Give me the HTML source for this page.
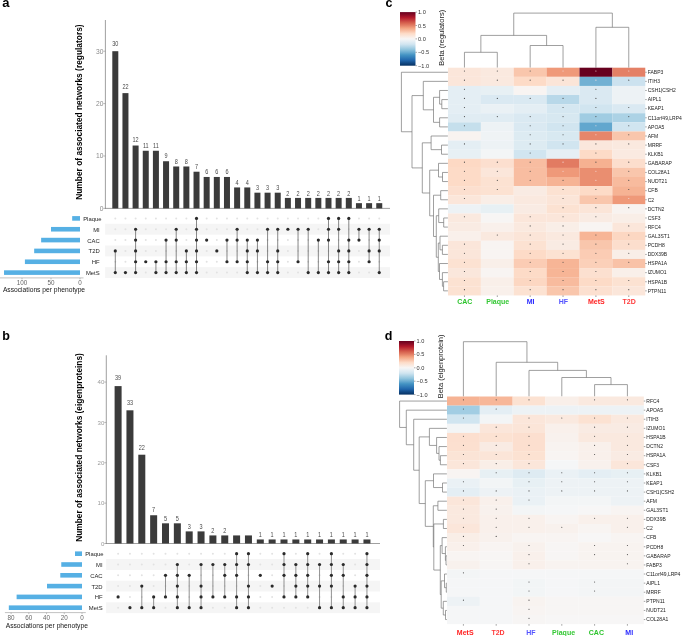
<!DOCTYPE html>
<html><head><meta charset="utf-8"><style>
html,body{margin:0;padding:0;background:#fff;}
body{width:685px;height:636px;overflow:hidden;}
svg{display:block;font-family:"Liberation Sans", sans-serif;will-change:transform;}
</style></head><body>
<svg width="685" height="636" viewBox="0 0 685 636">
<rect width="685" height="636" fill="#fff"/>
<text x="2.30" y="7.00" font-size="13" fill="#000" text-anchor="start" font-weight="bold">a</text>
<text x="82.20" y="112.10" font-size="8.4" fill="#000" text-anchor="middle" font-weight="bold" transform="rotate(-90 82.2 112.1)">Number of associated networks (regulators)</text>
<line x1="105.40" y1="20.00" x2="105.40" y2="208.80" stroke="#888" stroke-width="0.8"/>
<line x1="105.00" y1="208.40" x2="390.00" y2="208.40" stroke="#888" stroke-width="0.8"/>
<line x1="103.40" y1="208.40" x2="105.40" y2="208.40" stroke="#888" stroke-width="0.6"/>
<text x="103.40" y="210.80" font-size="6.7" fill="#8a8a8a" text-anchor="end">0</text>
<line x1="103.40" y1="156.00" x2="105.40" y2="156.00" stroke="#888" stroke-width="0.6"/>
<text x="103.40" y="158.40" font-size="6.7" fill="#8a8a8a" text-anchor="end">10</text>
<line x1="103.40" y1="103.60" x2="105.40" y2="103.60" stroke="#888" stroke-width="0.6"/>
<text x="103.40" y="106.00" font-size="6.7" fill="#8a8a8a" text-anchor="end">20</text>
<line x1="103.40" y1="51.20" x2="105.40" y2="51.20" stroke="#888" stroke-width="0.6"/>
<text x="103.40" y="53.60" font-size="6.7" fill="#8a8a8a" text-anchor="end">30</text>
<rect x="112.30" y="51.20" width="6.00" height="157.20" fill="#3b3b3b"/>
<text transform="translate(115.30 46.30) scale(0.8 1)" font-size="6.9" fill="#4a4a4a" text-anchor="middle">30</text>
<rect x="122.45" y="93.12" width="6.00" height="115.28" fill="#3b3b3b"/>
<text transform="translate(125.45 88.94) scale(0.8 1)" font-size="6.9" fill="#4a4a4a" text-anchor="middle">22</text>
<rect x="132.60" y="145.52" width="6.00" height="62.88" fill="#3b3b3b"/>
<text transform="translate(135.60 142.24) scale(0.8 1)" font-size="6.9" fill="#4a4a4a" text-anchor="middle">12</text>
<rect x="142.76" y="150.76" width="6.00" height="57.64" fill="#3b3b3b"/>
<text transform="translate(145.76 147.57) scale(0.8 1)" font-size="6.9" fill="#4a4a4a" text-anchor="middle">11</text>
<rect x="152.91" y="150.76" width="6.00" height="57.64" fill="#3b3b3b"/>
<text transform="translate(155.91 147.57) scale(0.8 1)" font-size="6.9" fill="#4a4a4a" text-anchor="middle">11</text>
<rect x="163.06" y="161.24" width="6.00" height="47.16" fill="#3b3b3b"/>
<text transform="translate(166.06 158.23) scale(0.8 1)" font-size="6.9" fill="#4a4a4a" text-anchor="middle">9</text>
<rect x="173.21" y="166.48" width="6.00" height="41.92" fill="#3b3b3b"/>
<text transform="translate(176.21 163.56) scale(0.8 1)" font-size="6.9" fill="#4a4a4a" text-anchor="middle">8</text>
<rect x="183.36" y="166.48" width="6.00" height="41.92" fill="#3b3b3b"/>
<text transform="translate(186.36 163.56) scale(0.8 1)" font-size="6.9" fill="#4a4a4a" text-anchor="middle">8</text>
<rect x="193.52" y="171.72" width="6.00" height="36.68" fill="#3b3b3b"/>
<text transform="translate(196.52 168.89) scale(0.8 1)" font-size="6.9" fill="#4a4a4a" text-anchor="middle">7</text>
<rect x="203.67" y="176.96" width="6.00" height="31.44" fill="#3b3b3b"/>
<text transform="translate(206.67 174.22) scale(0.8 1)" font-size="6.9" fill="#4a4a4a" text-anchor="middle">6</text>
<rect x="213.82" y="176.96" width="6.00" height="31.44" fill="#3b3b3b"/>
<text transform="translate(216.82 174.22) scale(0.8 1)" font-size="6.9" fill="#4a4a4a" text-anchor="middle">6</text>
<rect x="223.97" y="176.96" width="6.00" height="31.44" fill="#3b3b3b"/>
<text transform="translate(226.97 174.22) scale(0.8 1)" font-size="6.9" fill="#4a4a4a" text-anchor="middle">6</text>
<rect x="234.12" y="187.44" width="6.00" height="20.96" fill="#3b3b3b"/>
<text transform="translate(237.12 184.88) scale(0.8 1)" font-size="6.9" fill="#4a4a4a" text-anchor="middle">4</text>
<rect x="244.28" y="187.44" width="6.00" height="20.96" fill="#3b3b3b"/>
<text transform="translate(247.28 184.88) scale(0.8 1)" font-size="6.9" fill="#4a4a4a" text-anchor="middle">4</text>
<rect x="254.43" y="192.68" width="6.00" height="15.72" fill="#3b3b3b"/>
<text transform="translate(257.43 190.21) scale(0.8 1)" font-size="6.9" fill="#4a4a4a" text-anchor="middle">3</text>
<rect x="264.58" y="192.68" width="6.00" height="15.72" fill="#3b3b3b"/>
<text transform="translate(267.58 190.21) scale(0.8 1)" font-size="6.9" fill="#4a4a4a" text-anchor="middle">3</text>
<rect x="274.73" y="192.68" width="6.00" height="15.72" fill="#3b3b3b"/>
<text transform="translate(277.73 190.21) scale(0.8 1)" font-size="6.9" fill="#4a4a4a" text-anchor="middle">3</text>
<rect x="284.88" y="197.92" width="6.00" height="10.48" fill="#3b3b3b"/>
<text transform="translate(287.88 195.54) scale(0.8 1)" font-size="6.9" fill="#4a4a4a" text-anchor="middle">2</text>
<rect x="295.04" y="197.92" width="6.00" height="10.48" fill="#3b3b3b"/>
<text transform="translate(298.04 195.54) scale(0.8 1)" font-size="6.9" fill="#4a4a4a" text-anchor="middle">2</text>
<rect x="305.19" y="197.92" width="6.00" height="10.48" fill="#3b3b3b"/>
<text transform="translate(308.19 195.54) scale(0.8 1)" font-size="6.9" fill="#4a4a4a" text-anchor="middle">2</text>
<rect x="315.34" y="197.92" width="6.00" height="10.48" fill="#3b3b3b"/>
<text transform="translate(318.34 195.54) scale(0.8 1)" font-size="6.9" fill="#4a4a4a" text-anchor="middle">2</text>
<rect x="325.49" y="197.92" width="6.00" height="10.48" fill="#3b3b3b"/>
<text transform="translate(328.49 195.54) scale(0.8 1)" font-size="6.9" fill="#4a4a4a" text-anchor="middle">2</text>
<rect x="335.64" y="197.92" width="6.00" height="10.48" fill="#3b3b3b"/>
<text transform="translate(338.64 195.54) scale(0.8 1)" font-size="6.9" fill="#4a4a4a" text-anchor="middle">2</text>
<rect x="345.80" y="197.92" width="6.00" height="10.48" fill="#3b3b3b"/>
<text transform="translate(348.80 195.54) scale(0.8 1)" font-size="6.9" fill="#4a4a4a" text-anchor="middle">2</text>
<rect x="355.95" y="203.16" width="6.00" height="5.24" fill="#3b3b3b"/>
<text transform="translate(358.95 200.87) scale(0.8 1)" font-size="6.9" fill="#4a4a4a" text-anchor="middle">1</text>
<rect x="366.10" y="203.16" width="6.00" height="5.24" fill="#3b3b3b"/>
<text transform="translate(369.10 200.87) scale(0.8 1)" font-size="6.9" fill="#4a4a4a" text-anchor="middle">1</text>
<rect x="376.25" y="203.16" width="6.00" height="5.24" fill="#3b3b3b"/>
<text transform="translate(379.25 200.87) scale(0.8 1)" font-size="6.9" fill="#4a4a4a" text-anchor="middle">1</text>
<rect x="105.10" y="223.79" width="284.90" height="10.90" fill="#f5f5f5"/>
<rect x="105.10" y="245.47" width="284.90" height="10.90" fill="#f5f5f5"/>
<rect x="105.10" y="267.15" width="284.90" height="10.90" fill="#f5f5f5"/>
<circle cx="115.30" cy="218.40" r="1.0" fill="#e2e2e2"/>
<circle cx="115.30" cy="229.24" r="1.0" fill="#e2e2e2"/>
<circle cx="115.30" cy="240.08" r="1.0" fill="#e2e2e2"/>
<circle cx="115.30" cy="261.76" r="1.0" fill="#e2e2e2"/>
<line x1="115.30" y1="250.92" x2="115.30" y2="272.60" stroke="#555" stroke-width="0.7"/>
<circle cx="115.30" cy="250.92" r="1.6" fill="#2a2a2a"/>
<circle cx="115.30" cy="272.60" r="1.6" fill="#2a2a2a"/>
<circle cx="125.45" cy="218.40" r="1.0" fill="#e2e2e2"/>
<circle cx="125.45" cy="229.24" r="1.0" fill="#e2e2e2"/>
<circle cx="125.45" cy="240.08" r="1.0" fill="#e2e2e2"/>
<circle cx="125.45" cy="250.92" r="1.0" fill="#e2e2e2"/>
<circle cx="125.45" cy="261.76" r="1.0" fill="#e2e2e2"/>
<circle cx="125.45" cy="272.60" r="1.6" fill="#2a2a2a"/>
<circle cx="135.60" cy="218.40" r="1.0" fill="#e2e2e2"/>
<line x1="135.60" y1="229.24" x2="135.60" y2="272.60" stroke="#555" stroke-width="0.7"/>
<circle cx="135.60" cy="229.24" r="1.6" fill="#2a2a2a"/>
<circle cx="135.60" cy="240.08" r="1.6" fill="#2a2a2a"/>
<circle cx="135.60" cy="250.92" r="1.6" fill="#2a2a2a"/>
<circle cx="135.60" cy="261.76" r="1.6" fill="#2a2a2a"/>
<circle cx="135.60" cy="272.60" r="1.6" fill="#2a2a2a"/>
<circle cx="145.76" cy="218.40" r="1.0" fill="#e2e2e2"/>
<circle cx="145.76" cy="229.24" r="1.0" fill="#e2e2e2"/>
<circle cx="145.76" cy="240.08" r="1.0" fill="#e2e2e2"/>
<circle cx="145.76" cy="250.92" r="1.0" fill="#e2e2e2"/>
<circle cx="145.76" cy="272.60" r="1.0" fill="#e2e2e2"/>
<circle cx="145.76" cy="261.76" r="1.6" fill="#2a2a2a"/>
<circle cx="155.91" cy="218.40" r="1.0" fill="#e2e2e2"/>
<circle cx="155.91" cy="229.24" r="1.0" fill="#e2e2e2"/>
<circle cx="155.91" cy="240.08" r="1.0" fill="#e2e2e2"/>
<circle cx="155.91" cy="250.92" r="1.0" fill="#e2e2e2"/>
<line x1="155.91" y1="261.76" x2="155.91" y2="272.60" stroke="#555" stroke-width="0.7"/>
<circle cx="155.91" cy="261.76" r="1.6" fill="#2a2a2a"/>
<circle cx="155.91" cy="272.60" r="1.6" fill="#2a2a2a"/>
<circle cx="166.06" cy="218.40" r="1.0" fill="#e2e2e2"/>
<circle cx="166.06" cy="229.24" r="1.0" fill="#e2e2e2"/>
<circle cx="166.06" cy="250.92" r="1.0" fill="#e2e2e2"/>
<line x1="166.06" y1="240.08" x2="166.06" y2="272.60" stroke="#555" stroke-width="0.7"/>
<circle cx="166.06" cy="240.08" r="1.6" fill="#2a2a2a"/>
<circle cx="166.06" cy="261.76" r="1.6" fill="#2a2a2a"/>
<circle cx="166.06" cy="272.60" r="1.6" fill="#2a2a2a"/>
<circle cx="176.21" cy="218.40" r="1.0" fill="#e2e2e2"/>
<circle cx="176.21" cy="250.92" r="1.0" fill="#e2e2e2"/>
<line x1="176.21" y1="229.24" x2="176.21" y2="272.60" stroke="#555" stroke-width="0.7"/>
<circle cx="176.21" cy="229.24" r="1.6" fill="#2a2a2a"/>
<circle cx="176.21" cy="240.08" r="1.6" fill="#2a2a2a"/>
<circle cx="176.21" cy="261.76" r="1.6" fill="#2a2a2a"/>
<circle cx="176.21" cy="272.60" r="1.6" fill="#2a2a2a"/>
<circle cx="186.36" cy="218.40" r="1.0" fill="#e2e2e2"/>
<circle cx="186.36" cy="229.24" r="1.0" fill="#e2e2e2"/>
<circle cx="186.36" cy="240.08" r="1.0" fill="#e2e2e2"/>
<line x1="186.36" y1="250.92" x2="186.36" y2="272.60" stroke="#555" stroke-width="0.7"/>
<circle cx="186.36" cy="250.92" r="1.6" fill="#2a2a2a"/>
<circle cx="186.36" cy="261.76" r="1.6" fill="#2a2a2a"/>
<circle cx="186.36" cy="272.60" r="1.6" fill="#2a2a2a"/>
<line x1="196.52" y1="218.40" x2="196.52" y2="272.60" stroke="#555" stroke-width="0.7"/>
<circle cx="196.52" cy="218.40" r="1.6" fill="#2a2a2a"/>
<circle cx="196.52" cy="229.24" r="1.6" fill="#2a2a2a"/>
<circle cx="196.52" cy="240.08" r="1.6" fill="#2a2a2a"/>
<circle cx="196.52" cy="250.92" r="1.6" fill="#2a2a2a"/>
<circle cx="196.52" cy="261.76" r="1.6" fill="#2a2a2a"/>
<circle cx="196.52" cy="272.60" r="1.6" fill="#2a2a2a"/>
<circle cx="206.67" cy="218.40" r="1.0" fill="#e2e2e2"/>
<circle cx="206.67" cy="229.24" r="1.0" fill="#e2e2e2"/>
<circle cx="206.67" cy="250.92" r="1.0" fill="#e2e2e2"/>
<circle cx="206.67" cy="261.76" r="1.0" fill="#e2e2e2"/>
<circle cx="206.67" cy="272.60" r="1.0" fill="#e2e2e2"/>
<circle cx="206.67" cy="240.08" r="1.6" fill="#2a2a2a"/>
<circle cx="216.82" cy="218.40" r="1.0" fill="#e2e2e2"/>
<circle cx="216.82" cy="229.24" r="1.0" fill="#e2e2e2"/>
<circle cx="216.82" cy="240.08" r="1.0" fill="#e2e2e2"/>
<circle cx="216.82" cy="261.76" r="1.0" fill="#e2e2e2"/>
<circle cx="216.82" cy="272.60" r="1.0" fill="#e2e2e2"/>
<circle cx="216.82" cy="250.92" r="1.6" fill="#2a2a2a"/>
<circle cx="226.97" cy="218.40" r="1.0" fill="#e2e2e2"/>
<circle cx="226.97" cy="229.24" r="1.0" fill="#e2e2e2"/>
<circle cx="226.97" cy="250.92" r="1.0" fill="#e2e2e2"/>
<circle cx="226.97" cy="272.60" r="1.0" fill="#e2e2e2"/>
<line x1="226.97" y1="240.08" x2="226.97" y2="261.76" stroke="#555" stroke-width="0.7"/>
<circle cx="226.97" cy="240.08" r="1.6" fill="#2a2a2a"/>
<circle cx="226.97" cy="261.76" r="1.6" fill="#2a2a2a"/>
<circle cx="237.12" cy="218.40" r="1.0" fill="#e2e2e2"/>
<circle cx="237.12" cy="250.92" r="1.0" fill="#e2e2e2"/>
<circle cx="237.12" cy="272.60" r="1.0" fill="#e2e2e2"/>
<line x1="237.12" y1="229.24" x2="237.12" y2="261.76" stroke="#555" stroke-width="0.7"/>
<circle cx="237.12" cy="229.24" r="1.6" fill="#2a2a2a"/>
<circle cx="237.12" cy="240.08" r="1.6" fill="#2a2a2a"/>
<circle cx="237.12" cy="261.76" r="1.6" fill="#2a2a2a"/>
<circle cx="247.28" cy="218.40" r="1.0" fill="#e2e2e2"/>
<circle cx="247.28" cy="229.24" r="1.0" fill="#e2e2e2"/>
<line x1="247.28" y1="240.08" x2="247.28" y2="272.60" stroke="#555" stroke-width="0.7"/>
<circle cx="247.28" cy="240.08" r="1.6" fill="#2a2a2a"/>
<circle cx="247.28" cy="250.92" r="1.6" fill="#2a2a2a"/>
<circle cx="247.28" cy="261.76" r="1.6" fill="#2a2a2a"/>
<circle cx="247.28" cy="272.60" r="1.6" fill="#2a2a2a"/>
<circle cx="257.43" cy="218.40" r="1.0" fill="#e2e2e2"/>
<circle cx="257.43" cy="229.24" r="1.0" fill="#e2e2e2"/>
<circle cx="257.43" cy="261.76" r="1.0" fill="#e2e2e2"/>
<line x1="257.43" y1="240.08" x2="257.43" y2="272.60" stroke="#555" stroke-width="0.7"/>
<circle cx="257.43" cy="240.08" r="1.6" fill="#2a2a2a"/>
<circle cx="257.43" cy="250.92" r="1.6" fill="#2a2a2a"/>
<circle cx="257.43" cy="272.60" r="1.6" fill="#2a2a2a"/>
<circle cx="267.58" cy="218.40" r="1.0" fill="#e2e2e2"/>
<circle cx="267.58" cy="240.08" r="1.0" fill="#e2e2e2"/>
<circle cx="267.58" cy="250.92" r="1.0" fill="#e2e2e2"/>
<line x1="267.58" y1="229.24" x2="267.58" y2="272.60" stroke="#555" stroke-width="0.7"/>
<circle cx="267.58" cy="229.24" r="1.6" fill="#2a2a2a"/>
<circle cx="267.58" cy="261.76" r="1.6" fill="#2a2a2a"/>
<circle cx="267.58" cy="272.60" r="1.6" fill="#2a2a2a"/>
<circle cx="277.73" cy="218.40" r="1.0" fill="#e2e2e2"/>
<circle cx="277.73" cy="240.08" r="1.0" fill="#e2e2e2"/>
<line x1="277.73" y1="229.24" x2="277.73" y2="272.60" stroke="#555" stroke-width="0.7"/>
<circle cx="277.73" cy="229.24" r="1.6" fill="#2a2a2a"/>
<circle cx="277.73" cy="250.92" r="1.6" fill="#2a2a2a"/>
<circle cx="277.73" cy="261.76" r="1.6" fill="#2a2a2a"/>
<circle cx="277.73" cy="272.60" r="1.6" fill="#2a2a2a"/>
<circle cx="287.88" cy="218.40" r="1.0" fill="#e2e2e2"/>
<circle cx="287.88" cy="240.08" r="1.0" fill="#e2e2e2"/>
<circle cx="287.88" cy="250.92" r="1.0" fill="#e2e2e2"/>
<circle cx="287.88" cy="261.76" r="1.0" fill="#e2e2e2"/>
<circle cx="287.88" cy="272.60" r="1.0" fill="#e2e2e2"/>
<circle cx="287.88" cy="229.24" r="1.6" fill="#2a2a2a"/>
<circle cx="298.04" cy="218.40" r="1.0" fill="#e2e2e2"/>
<circle cx="298.04" cy="240.08" r="1.0" fill="#e2e2e2"/>
<circle cx="298.04" cy="250.92" r="1.0" fill="#e2e2e2"/>
<circle cx="298.04" cy="272.60" r="1.0" fill="#e2e2e2"/>
<line x1="298.04" y1="229.24" x2="298.04" y2="261.76" stroke="#555" stroke-width="0.7"/>
<circle cx="298.04" cy="229.24" r="1.6" fill="#2a2a2a"/>
<circle cx="298.04" cy="261.76" r="1.6" fill="#2a2a2a"/>
<circle cx="308.19" cy="218.40" r="1.0" fill="#e2e2e2"/>
<circle cx="308.19" cy="240.08" r="1.0" fill="#e2e2e2"/>
<circle cx="308.19" cy="250.92" r="1.0" fill="#e2e2e2"/>
<circle cx="308.19" cy="261.76" r="1.0" fill="#e2e2e2"/>
<line x1="308.19" y1="229.24" x2="308.19" y2="272.60" stroke="#555" stroke-width="0.7"/>
<circle cx="308.19" cy="229.24" r="1.6" fill="#2a2a2a"/>
<circle cx="308.19" cy="272.60" r="1.6" fill="#2a2a2a"/>
<circle cx="318.34" cy="218.40" r="1.0" fill="#e2e2e2"/>
<circle cx="318.34" cy="229.24" r="1.0" fill="#e2e2e2"/>
<circle cx="318.34" cy="250.92" r="1.0" fill="#e2e2e2"/>
<circle cx="318.34" cy="261.76" r="1.0" fill="#e2e2e2"/>
<line x1="318.34" y1="240.08" x2="318.34" y2="272.60" stroke="#555" stroke-width="0.7"/>
<circle cx="318.34" cy="240.08" r="1.6" fill="#2a2a2a"/>
<circle cx="318.34" cy="272.60" r="1.6" fill="#2a2a2a"/>
<circle cx="328.49" cy="250.92" r="1.0" fill="#e2e2e2"/>
<line x1="328.49" y1="218.40" x2="328.49" y2="272.60" stroke="#555" stroke-width="0.7"/>
<circle cx="328.49" cy="218.40" r="1.6" fill="#2a2a2a"/>
<circle cx="328.49" cy="229.24" r="1.6" fill="#2a2a2a"/>
<circle cx="328.49" cy="240.08" r="1.6" fill="#2a2a2a"/>
<circle cx="328.49" cy="261.76" r="1.6" fill="#2a2a2a"/>
<circle cx="328.49" cy="272.60" r="1.6" fill="#2a2a2a"/>
<circle cx="338.64" cy="240.08" r="1.0" fill="#e2e2e2"/>
<line x1="338.64" y1="218.40" x2="338.64" y2="272.60" stroke="#555" stroke-width="0.7"/>
<circle cx="338.64" cy="218.40" r="1.6" fill="#2a2a2a"/>
<circle cx="338.64" cy="229.24" r="1.6" fill="#2a2a2a"/>
<circle cx="338.64" cy="250.92" r="1.6" fill="#2a2a2a"/>
<circle cx="338.64" cy="261.76" r="1.6" fill="#2a2a2a"/>
<circle cx="338.64" cy="272.60" r="1.6" fill="#2a2a2a"/>
<circle cx="348.80" cy="229.24" r="1.0" fill="#e2e2e2"/>
<line x1="348.80" y1="218.40" x2="348.80" y2="272.60" stroke="#555" stroke-width="0.7"/>
<circle cx="348.80" cy="218.40" r="1.6" fill="#2a2a2a"/>
<circle cx="348.80" cy="240.08" r="1.6" fill="#2a2a2a"/>
<circle cx="348.80" cy="250.92" r="1.6" fill="#2a2a2a"/>
<circle cx="348.80" cy="261.76" r="1.6" fill="#2a2a2a"/>
<circle cx="348.80" cy="272.60" r="1.6" fill="#2a2a2a"/>
<circle cx="358.95" cy="218.40" r="1.0" fill="#e2e2e2"/>
<circle cx="358.95" cy="250.92" r="1.0" fill="#e2e2e2"/>
<circle cx="358.95" cy="261.76" r="1.0" fill="#e2e2e2"/>
<circle cx="358.95" cy="272.60" r="1.0" fill="#e2e2e2"/>
<line x1="358.95" y1="229.24" x2="358.95" y2="240.08" stroke="#555" stroke-width="0.7"/>
<circle cx="358.95" cy="229.24" r="1.6" fill="#2a2a2a"/>
<circle cx="358.95" cy="240.08" r="1.6" fill="#2a2a2a"/>
<circle cx="369.10" cy="218.40" r="1.0" fill="#e2e2e2"/>
<circle cx="369.10" cy="240.08" r="1.0" fill="#e2e2e2"/>
<circle cx="369.10" cy="272.60" r="1.0" fill="#e2e2e2"/>
<line x1="369.10" y1="229.24" x2="369.10" y2="261.76" stroke="#555" stroke-width="0.7"/>
<circle cx="369.10" cy="229.24" r="1.6" fill="#2a2a2a"/>
<circle cx="369.10" cy="250.92" r="1.6" fill="#2a2a2a"/>
<circle cx="369.10" cy="261.76" r="1.6" fill="#2a2a2a"/>
<circle cx="379.25" cy="218.40" r="1.0" fill="#e2e2e2"/>
<circle cx="379.25" cy="261.76" r="1.0" fill="#e2e2e2"/>
<line x1="379.25" y1="229.24" x2="379.25" y2="272.60" stroke="#555" stroke-width="0.7"/>
<circle cx="379.25" cy="229.24" r="1.6" fill="#2a2a2a"/>
<circle cx="379.25" cy="240.08" r="1.6" fill="#2a2a2a"/>
<circle cx="379.25" cy="250.92" r="1.6" fill="#2a2a2a"/>
<circle cx="379.25" cy="272.60" r="1.6" fill="#2a2a2a"/>
<text x="101.50" y="220.90" font-size="5.9" fill="#1e1e1e" text-anchor="end">Plaque</text>
<rect x="72.17" y="216.10" width="7.83" height="4.60" fill="#56b0e4"/>
<text x="99.70" y="231.74" font-size="5.9" fill="#1e1e1e" text-anchor="end">MI</text>
<rect x="51.00" y="226.94" width="29.00" height="4.60" fill="#56b0e4"/>
<text x="99.70" y="242.58" font-size="5.9" fill="#1e1e1e" text-anchor="end">CAC</text>
<rect x="41.14" y="237.78" width="38.86" height="4.60" fill="#56b0e4"/>
<text x="99.70" y="253.42" font-size="5.9" fill="#1e1e1e" text-anchor="end">T2D</text>
<rect x="34.18" y="248.62" width="45.82" height="4.60" fill="#56b0e4"/>
<text x="99.70" y="264.26" font-size="5.9" fill="#1e1e1e" text-anchor="end">HF</text>
<rect x="24.90" y="259.46" width="55.10" height="4.60" fill="#56b0e4"/>
<text x="99.70" y="275.10" font-size="5.9" fill="#1e1e1e" text-anchor="end">MetS</text>
<rect x="4.02" y="270.30" width="75.98" height="4.60" fill="#56b0e4"/>
<line x1="0.00" y1="277.90" x2="83.50" y2="277.90" stroke="#999" stroke-width="0.6"/>
<line x1="22.00" y1="277.90" x2="22.00" y2="279.40" stroke="#999" stroke-width="0.6"/>
<text x="22.00" y="284.90" font-size="6.3" fill="#666" text-anchor="middle">100</text>
<line x1="51.00" y1="277.90" x2="51.00" y2="279.40" stroke="#999" stroke-width="0.6"/>
<text x="51.00" y="284.90" font-size="6.3" fill="#666" text-anchor="middle">50</text>
<line x1="80.00" y1="277.90" x2="80.00" y2="279.40" stroke="#999" stroke-width="0.6"/>
<text x="80.00" y="284.90" font-size="6.3" fill="#666" text-anchor="middle">0</text>
<text x="44.00" y="292.30" font-size="6.7" fill="#151515" text-anchor="middle">Associations per phenotype</text>
<text x="2.20" y="339.70" font-size="12.5" fill="#000" text-anchor="start" font-weight="bold">b</text>
<text x="81.60" y="447.50" font-size="8.35" fill="#000" text-anchor="middle" font-weight="bold" transform="rotate(-90 81.6 447.5)">Number of associated networks (eigenproteins)</text>
<line x1="106.30" y1="355.30" x2="106.30" y2="543.90" stroke="#888" stroke-width="0.8"/>
<line x1="105.90" y1="543.50" x2="380.00" y2="543.50" stroke="#888" stroke-width="0.8"/>
<line x1="104.30" y1="543.50" x2="106.30" y2="543.50" stroke="#888" stroke-width="0.6"/>
<text x="104.30" y="545.70" font-size="6.1" fill="#9a9a9a" text-anchor="end">0</text>
<line x1="104.30" y1="503.14" x2="106.30" y2="503.14" stroke="#888" stroke-width="0.6"/>
<text x="104.30" y="505.34" font-size="6.1" fill="#9a9a9a" text-anchor="end">10</text>
<line x1="104.30" y1="462.78" x2="106.30" y2="462.78" stroke="#888" stroke-width="0.6"/>
<text x="104.30" y="464.98" font-size="6.1" fill="#9a9a9a" text-anchor="end">20</text>
<line x1="104.30" y1="422.42" x2="106.30" y2="422.42" stroke="#888" stroke-width="0.6"/>
<text x="104.30" y="424.62" font-size="6.1" fill="#9a9a9a" text-anchor="end">30</text>
<line x1="104.30" y1="382.06" x2="106.30" y2="382.06" stroke="#888" stroke-width="0.6"/>
<text x="104.30" y="384.26" font-size="6.1" fill="#9a9a9a" text-anchor="end">40</text>
<rect x="114.60" y="386.10" width="7.00" height="157.40" fill="#3b3b3b"/>
<text transform="translate(118.10 380.00) scale(0.8 1)" font-size="6.9" fill="#4a4a4a" text-anchor="middle">39</text>
<rect x="126.45" y="410.31" width="7.00" height="133.19" fill="#3b3b3b"/>
<text transform="translate(129.95 404.81) scale(0.8 1)" font-size="6.9" fill="#4a4a4a" text-anchor="middle">33</text>
<rect x="138.30" y="454.71" width="7.00" height="88.79" fill="#3b3b3b"/>
<text transform="translate(141.80 450.31) scale(0.8 1)" font-size="6.9" fill="#4a4a4a" text-anchor="middle">22</text>
<rect x="150.15" y="515.25" width="7.00" height="28.25" fill="#3b3b3b"/>
<text transform="translate(153.65 512.35) scale(0.8 1)" font-size="6.9" fill="#4a4a4a" text-anchor="middle">7</text>
<rect x="162.00" y="523.32" width="7.00" height="20.18" fill="#3b3b3b"/>
<text transform="translate(165.50 520.62) scale(0.8 1)" font-size="6.9" fill="#4a4a4a" text-anchor="middle">5</text>
<rect x="173.85" y="523.32" width="7.00" height="20.18" fill="#3b3b3b"/>
<text transform="translate(177.35 520.62) scale(0.8 1)" font-size="6.9" fill="#4a4a4a" text-anchor="middle">5</text>
<rect x="185.70" y="531.39" width="7.00" height="12.11" fill="#3b3b3b"/>
<text transform="translate(189.20 528.89) scale(0.8 1)" font-size="6.9" fill="#4a4a4a" text-anchor="middle">3</text>
<rect x="197.55" y="531.39" width="7.00" height="12.11" fill="#3b3b3b"/>
<text transform="translate(201.05 528.89) scale(0.8 1)" font-size="6.9" fill="#4a4a4a" text-anchor="middle">3</text>
<rect x="209.40" y="535.43" width="7.00" height="8.07" fill="#3b3b3b"/>
<text transform="translate(212.90 533.03) scale(0.8 1)" font-size="6.9" fill="#4a4a4a" text-anchor="middle">2</text>
<rect x="221.25" y="535.43" width="7.00" height="8.07" fill="#3b3b3b"/>
<text transform="translate(224.75 533.03) scale(0.8 1)" font-size="6.9" fill="#4a4a4a" text-anchor="middle">2</text>
<rect x="233.10" y="535.43" width="7.00" height="8.07" fill="#3b3b3b"/>
<rect x="244.95" y="535.43" width="7.00" height="8.07" fill="#3b3b3b"/>
<rect x="256.80" y="539.46" width="7.00" height="4.04" fill="#3b3b3b"/>
<text transform="translate(260.30 537.16) scale(0.8 1)" font-size="6.9" fill="#4a4a4a" text-anchor="middle">1</text>
<rect x="268.65" y="539.46" width="7.00" height="4.04" fill="#3b3b3b"/>
<text transform="translate(272.15 537.16) scale(0.8 1)" font-size="6.9" fill="#4a4a4a" text-anchor="middle">1</text>
<rect x="280.50" y="539.46" width="7.00" height="4.04" fill="#3b3b3b"/>
<text transform="translate(284.00 537.16) scale(0.8 1)" font-size="6.9" fill="#4a4a4a" text-anchor="middle">1</text>
<rect x="292.35" y="539.46" width="7.00" height="4.04" fill="#3b3b3b"/>
<text transform="translate(295.85 537.16) scale(0.8 1)" font-size="6.9" fill="#4a4a4a" text-anchor="middle">1</text>
<rect x="304.20" y="539.46" width="7.00" height="4.04" fill="#3b3b3b"/>
<text transform="translate(307.70 537.16) scale(0.8 1)" font-size="6.9" fill="#4a4a4a" text-anchor="middle">1</text>
<rect x="316.05" y="539.46" width="7.00" height="4.04" fill="#3b3b3b"/>
<text transform="translate(319.55 537.16) scale(0.8 1)" font-size="6.9" fill="#4a4a4a" text-anchor="middle">1</text>
<rect x="327.90" y="539.46" width="7.00" height="4.04" fill="#3b3b3b"/>
<text transform="translate(331.40 537.16) scale(0.8 1)" font-size="6.9" fill="#4a4a4a" text-anchor="middle">1</text>
<rect x="339.75" y="539.46" width="7.00" height="4.04" fill="#3b3b3b"/>
<text transform="translate(343.25 537.16) scale(0.8 1)" font-size="6.9" fill="#4a4a4a" text-anchor="middle">1</text>
<rect x="351.60" y="539.46" width="7.00" height="4.04" fill="#3b3b3b"/>
<text transform="translate(355.10 537.16) scale(0.8 1)" font-size="6.9" fill="#4a4a4a" text-anchor="middle">1</text>
<rect x="363.45" y="539.46" width="7.00" height="4.04" fill="#3b3b3b"/>
<text transform="translate(366.95 537.16) scale(0.8 1)" font-size="6.9" fill="#4a4a4a" text-anchor="middle">1</text>
<rect x="106.10" y="559.08" width="273.90" height="10.85" fill="#f5f5f5"/>
<rect x="106.10" y="580.68" width="273.90" height="10.85" fill="#f5f5f5"/>
<rect x="106.10" y="602.28" width="273.90" height="10.85" fill="#f5f5f5"/>
<circle cx="118.10" cy="553.70" r="1.0" fill="#e2e2e2"/>
<circle cx="118.10" cy="564.50" r="1.0" fill="#e2e2e2"/>
<circle cx="118.10" cy="575.30" r="1.0" fill="#e2e2e2"/>
<circle cx="118.10" cy="586.10" r="1.0" fill="#e2e2e2"/>
<circle cx="118.10" cy="607.70" r="1.0" fill="#e2e2e2"/>
<circle cx="118.10" cy="596.90" r="1.6" fill="#2a2a2a"/>
<circle cx="129.95" cy="553.70" r="1.0" fill="#e2e2e2"/>
<circle cx="129.95" cy="564.50" r="1.0" fill="#e2e2e2"/>
<circle cx="129.95" cy="575.30" r="1.0" fill="#e2e2e2"/>
<circle cx="129.95" cy="586.10" r="1.0" fill="#e2e2e2"/>
<circle cx="129.95" cy="596.90" r="1.0" fill="#e2e2e2"/>
<circle cx="129.95" cy="607.70" r="1.6" fill="#2a2a2a"/>
<circle cx="141.80" cy="553.70" r="1.0" fill="#e2e2e2"/>
<circle cx="141.80" cy="564.50" r="1.0" fill="#e2e2e2"/>
<circle cx="141.80" cy="575.30" r="1.0" fill="#e2e2e2"/>
<circle cx="141.80" cy="596.90" r="1.0" fill="#e2e2e2"/>
<line x1="141.80" y1="586.10" x2="141.80" y2="607.70" stroke="#808080" stroke-width="0.85"/>
<circle cx="141.80" cy="586.10" r="1.6" fill="#2a2a2a"/>
<circle cx="141.80" cy="607.70" r="1.6" fill="#2a2a2a"/>
<circle cx="153.65" cy="553.70" r="1.0" fill="#e2e2e2"/>
<circle cx="153.65" cy="564.50" r="1.0" fill="#e2e2e2"/>
<circle cx="153.65" cy="575.30" r="1.0" fill="#e2e2e2"/>
<circle cx="153.65" cy="586.10" r="1.0" fill="#e2e2e2"/>
<line x1="153.65" y1="596.90" x2="153.65" y2="607.70" stroke="#808080" stroke-width="0.85"/>
<circle cx="153.65" cy="596.90" r="1.6" fill="#2a2a2a"/>
<circle cx="153.65" cy="607.70" r="1.6" fill="#2a2a2a"/>
<circle cx="165.50" cy="553.70" r="1.0" fill="#e2e2e2"/>
<circle cx="165.50" cy="564.50" r="1.0" fill="#e2e2e2"/>
<circle cx="165.50" cy="586.10" r="1.0" fill="#e2e2e2"/>
<circle cx="165.50" cy="607.70" r="1.0" fill="#e2e2e2"/>
<line x1="165.50" y1="575.30" x2="165.50" y2="596.90" stroke="#808080" stroke-width="0.85"/>
<circle cx="165.50" cy="575.30" r="1.6" fill="#2a2a2a"/>
<circle cx="165.50" cy="596.90" r="1.6" fill="#2a2a2a"/>
<circle cx="177.35" cy="553.70" r="1.0" fill="#e2e2e2"/>
<line x1="177.35" y1="564.50" x2="177.35" y2="607.70" stroke="#808080" stroke-width="0.85"/>
<circle cx="177.35" cy="564.50" r="1.6" fill="#2a2a2a"/>
<circle cx="177.35" cy="575.30" r="1.6" fill="#2a2a2a"/>
<circle cx="177.35" cy="586.10" r="1.6" fill="#2a2a2a"/>
<circle cx="177.35" cy="596.90" r="1.6" fill="#2a2a2a"/>
<circle cx="177.35" cy="607.70" r="1.6" fill="#2a2a2a"/>
<circle cx="189.20" cy="553.70" r="1.0" fill="#e2e2e2"/>
<circle cx="189.20" cy="564.50" r="1.0" fill="#e2e2e2"/>
<circle cx="189.20" cy="586.10" r="1.0" fill="#e2e2e2"/>
<circle cx="189.20" cy="596.90" r="1.0" fill="#e2e2e2"/>
<line x1="189.20" y1="575.30" x2="189.20" y2="607.70" stroke="#808080" stroke-width="0.85"/>
<circle cx="189.20" cy="575.30" r="1.6" fill="#2a2a2a"/>
<circle cx="189.20" cy="607.70" r="1.6" fill="#2a2a2a"/>
<circle cx="201.05" cy="553.70" r="1.0" fill="#e2e2e2"/>
<circle cx="201.05" cy="575.30" r="1.0" fill="#e2e2e2"/>
<line x1="201.05" y1="564.50" x2="201.05" y2="607.70" stroke="#808080" stroke-width="0.85"/>
<circle cx="201.05" cy="564.50" r="1.6" fill="#2a2a2a"/>
<circle cx="201.05" cy="586.10" r="1.6" fill="#2a2a2a"/>
<circle cx="201.05" cy="596.90" r="1.6" fill="#2a2a2a"/>
<circle cx="201.05" cy="607.70" r="1.6" fill="#2a2a2a"/>
<circle cx="212.90" cy="553.70" r="1.0" fill="#e2e2e2"/>
<circle cx="212.90" cy="575.30" r="1.0" fill="#e2e2e2"/>
<circle cx="212.90" cy="586.10" r="1.0" fill="#e2e2e2"/>
<circle cx="212.90" cy="607.70" r="1.0" fill="#e2e2e2"/>
<line x1="212.90" y1="564.50" x2="212.90" y2="596.90" stroke="#808080" stroke-width="0.85"/>
<circle cx="212.90" cy="564.50" r="1.6" fill="#2a2a2a"/>
<circle cx="212.90" cy="596.90" r="1.6" fill="#2a2a2a"/>
<circle cx="224.75" cy="553.70" r="1.0" fill="#e2e2e2"/>
<circle cx="224.75" cy="586.10" r="1.0" fill="#e2e2e2"/>
<circle cx="224.75" cy="607.70" r="1.0" fill="#e2e2e2"/>
<line x1="224.75" y1="564.50" x2="224.75" y2="596.90" stroke="#808080" stroke-width="0.85"/>
<circle cx="224.75" cy="564.50" r="1.6" fill="#2a2a2a"/>
<circle cx="224.75" cy="575.30" r="1.6" fill="#2a2a2a"/>
<circle cx="224.75" cy="596.90" r="1.6" fill="#2a2a2a"/>
<circle cx="236.60" cy="586.10" r="1.0" fill="#e2e2e2"/>
<line x1="236.60" y1="553.70" x2="236.60" y2="607.70" stroke="#808080" stroke-width="0.85"/>
<circle cx="236.60" cy="553.70" r="1.6" fill="#2a2a2a"/>
<circle cx="236.60" cy="564.50" r="1.6" fill="#2a2a2a"/>
<circle cx="236.60" cy="575.30" r="1.6" fill="#2a2a2a"/>
<circle cx="236.60" cy="596.90" r="1.6" fill="#2a2a2a"/>
<circle cx="236.60" cy="607.70" r="1.6" fill="#2a2a2a"/>
<circle cx="248.45" cy="575.30" r="1.0" fill="#e2e2e2"/>
<line x1="248.45" y1="553.70" x2="248.45" y2="607.70" stroke="#808080" stroke-width="0.85"/>
<circle cx="248.45" cy="553.70" r="1.6" fill="#2a2a2a"/>
<circle cx="248.45" cy="564.50" r="1.6" fill="#2a2a2a"/>
<circle cx="248.45" cy="586.10" r="1.6" fill="#2a2a2a"/>
<circle cx="248.45" cy="596.90" r="1.6" fill="#2a2a2a"/>
<circle cx="248.45" cy="607.70" r="1.6" fill="#2a2a2a"/>
<circle cx="260.30" cy="553.70" r="1.0" fill="#e2e2e2"/>
<circle cx="260.30" cy="564.50" r="1.0" fill="#e2e2e2"/>
<circle cx="260.30" cy="586.10" r="1.0" fill="#e2e2e2"/>
<circle cx="260.30" cy="596.90" r="1.0" fill="#e2e2e2"/>
<circle cx="260.30" cy="607.70" r="1.0" fill="#e2e2e2"/>
<circle cx="260.30" cy="575.30" r="1.6" fill="#2a2a2a"/>
<circle cx="272.15" cy="553.70" r="1.0" fill="#e2e2e2"/>
<circle cx="272.15" cy="564.50" r="1.0" fill="#e2e2e2"/>
<circle cx="272.15" cy="575.30" r="1.0" fill="#e2e2e2"/>
<circle cx="272.15" cy="596.90" r="1.0" fill="#e2e2e2"/>
<circle cx="272.15" cy="607.70" r="1.0" fill="#e2e2e2"/>
<circle cx="272.15" cy="586.10" r="1.6" fill="#2a2a2a"/>
<circle cx="284.00" cy="586.10" r="1.0" fill="#e2e2e2"/>
<circle cx="284.00" cy="607.70" r="1.0" fill="#e2e2e2"/>
<line x1="284.00" y1="553.70" x2="284.00" y2="596.90" stroke="#808080" stroke-width="0.85"/>
<circle cx="284.00" cy="553.70" r="1.6" fill="#2a2a2a"/>
<circle cx="284.00" cy="564.50" r="1.6" fill="#2a2a2a"/>
<circle cx="284.00" cy="575.30" r="1.6" fill="#2a2a2a"/>
<circle cx="284.00" cy="596.90" r="1.6" fill="#2a2a2a"/>
<circle cx="295.85" cy="553.70" r="1.0" fill="#e2e2e2"/>
<circle cx="295.85" cy="607.70" r="1.0" fill="#e2e2e2"/>
<line x1="295.85" y1="564.50" x2="295.85" y2="596.90" stroke="#808080" stroke-width="0.85"/>
<circle cx="295.85" cy="564.50" r="1.6" fill="#2a2a2a"/>
<circle cx="295.85" cy="575.30" r="1.6" fill="#2a2a2a"/>
<circle cx="295.85" cy="586.10" r="1.6" fill="#2a2a2a"/>
<circle cx="295.85" cy="596.90" r="1.6" fill="#2a2a2a"/>
<circle cx="307.70" cy="607.70" r="1.0" fill="#e2e2e2"/>
<line x1="307.70" y1="553.70" x2="307.70" y2="596.90" stroke="#808080" stroke-width="0.85"/>
<circle cx="307.70" cy="553.70" r="1.6" fill="#2a2a2a"/>
<circle cx="307.70" cy="564.50" r="1.6" fill="#2a2a2a"/>
<circle cx="307.70" cy="575.30" r="1.6" fill="#2a2a2a"/>
<circle cx="307.70" cy="586.10" r="1.6" fill="#2a2a2a"/>
<circle cx="307.70" cy="596.90" r="1.6" fill="#2a2a2a"/>
<circle cx="319.55" cy="553.70" r="1.0" fill="#e2e2e2"/>
<circle cx="319.55" cy="575.30" r="1.0" fill="#e2e2e2"/>
<circle cx="319.55" cy="596.90" r="1.0" fill="#e2e2e2"/>
<line x1="319.55" y1="564.50" x2="319.55" y2="607.70" stroke="#808080" stroke-width="0.85"/>
<circle cx="319.55" cy="564.50" r="1.6" fill="#2a2a2a"/>
<circle cx="319.55" cy="586.10" r="1.6" fill="#2a2a2a"/>
<circle cx="319.55" cy="607.70" r="1.6" fill="#2a2a2a"/>
<circle cx="331.40" cy="596.90" r="1.0" fill="#e2e2e2"/>
<line x1="331.40" y1="553.70" x2="331.40" y2="607.70" stroke="#808080" stroke-width="0.85"/>
<circle cx="331.40" cy="553.70" r="1.6" fill="#2a2a2a"/>
<circle cx="331.40" cy="564.50" r="1.6" fill="#2a2a2a"/>
<circle cx="331.40" cy="575.30" r="1.6" fill="#2a2a2a"/>
<circle cx="331.40" cy="586.10" r="1.6" fill="#2a2a2a"/>
<circle cx="331.40" cy="607.70" r="1.6" fill="#2a2a2a"/>
<circle cx="343.25" cy="553.70" r="1.0" fill="#e2e2e2"/>
<circle cx="343.25" cy="586.10" r="1.0" fill="#e2e2e2"/>
<line x1="343.25" y1="564.50" x2="343.25" y2="607.70" stroke="#808080" stroke-width="0.85"/>
<circle cx="343.25" cy="564.50" r="1.6" fill="#2a2a2a"/>
<circle cx="343.25" cy="575.30" r="1.6" fill="#2a2a2a"/>
<circle cx="343.25" cy="596.90" r="1.6" fill="#2a2a2a"/>
<circle cx="343.25" cy="607.70" r="1.6" fill="#2a2a2a"/>
<circle cx="355.10" cy="553.70" r="1.0" fill="#e2e2e2"/>
<circle cx="355.10" cy="564.50" r="1.0" fill="#e2e2e2"/>
<circle cx="355.10" cy="575.30" r="1.0" fill="#e2e2e2"/>
<line x1="355.10" y1="586.10" x2="355.10" y2="607.70" stroke="#808080" stroke-width="0.85"/>
<circle cx="355.10" cy="586.10" r="1.6" fill="#2a2a2a"/>
<circle cx="355.10" cy="596.90" r="1.6" fill="#2a2a2a"/>
<circle cx="355.10" cy="607.70" r="1.6" fill="#2a2a2a"/>
<line x1="366.95" y1="553.70" x2="366.95" y2="607.70" stroke="#808080" stroke-width="0.85"/>
<circle cx="366.95" cy="553.70" r="1.6" fill="#2a2a2a"/>
<circle cx="366.95" cy="564.50" r="1.6" fill="#2a2a2a"/>
<circle cx="366.95" cy="575.30" r="1.6" fill="#2a2a2a"/>
<circle cx="366.95" cy="586.10" r="1.6" fill="#2a2a2a"/>
<circle cx="366.95" cy="596.90" r="1.6" fill="#2a2a2a"/>
<circle cx="366.95" cy="607.70" r="1.6" fill="#2a2a2a"/>
<text x="103.50" y="556.20" font-size="5.9" fill="#1e1e1e" text-anchor="end">Plaque</text>
<rect x="75.00" y="551.40" width="7.00" height="4.60" fill="#56b0e4"/>
<text x="102.60" y="567.00" font-size="5.9" fill="#1e1e1e" text-anchor="end">MI</text>
<rect x="61.27" y="562.20" width="20.73" height="4.60" fill="#56b0e4"/>
<text x="102.60" y="577.80" font-size="5.9" fill="#1e1e1e" text-anchor="end">CAC</text>
<rect x="60.29" y="573.00" width="21.71" height="4.60" fill="#56b0e4"/>
<text x="102.60" y="588.60" font-size="5.9" fill="#1e1e1e" text-anchor="end">T2D</text>
<rect x="47.00" y="583.80" width="35.00" height="4.60" fill="#56b0e4"/>
<text x="102.60" y="599.40" font-size="5.9" fill="#1e1e1e" text-anchor="end">HF</text>
<rect x="16.61" y="594.60" width="65.39" height="4.60" fill="#56b0e4"/>
<text x="102.60" y="610.20" font-size="5.9" fill="#1e1e1e" text-anchor="end">MetS</text>
<rect x="8.82" y="605.40" width="73.18" height="4.60" fill="#56b0e4"/>
<line x1="4.90" y1="612.60" x2="85.80" y2="612.60" stroke="#999" stroke-width="0.6"/>
<line x1="11.12" y1="612.60" x2="11.12" y2="614.10" stroke="#999" stroke-width="0.6"/>
<text x="11.12" y="619.60" font-size="6.3" fill="#666" text-anchor="middle">80</text>
<line x1="28.84" y1="612.60" x2="28.84" y2="614.10" stroke="#999" stroke-width="0.6"/>
<text x="28.84" y="619.60" font-size="6.3" fill="#666" text-anchor="middle">60</text>
<line x1="46.56" y1="612.60" x2="46.56" y2="614.10" stroke="#999" stroke-width="0.6"/>
<text x="46.56" y="619.60" font-size="6.3" fill="#666" text-anchor="middle">40</text>
<line x1="64.28" y1="612.60" x2="64.28" y2="614.10" stroke="#999" stroke-width="0.6"/>
<text x="64.28" y="619.60" font-size="6.3" fill="#666" text-anchor="middle">20</text>
<line x1="82.00" y1="612.60" x2="82.00" y2="614.10" stroke="#999" stroke-width="0.6"/>
<text x="82.00" y="619.60" font-size="6.3" fill="#666" text-anchor="middle">0</text>
<text x="46.80" y="627.80" font-size="6.7" fill="#151515" text-anchor="middle">Associations per phenotype</text>
<defs><linearGradient id="gBeta12" x1="0" y1="0" x2="0" y2="1"><stop offset="0.000" stop-color="#67001f"/><stop offset="0.050" stop-color="#8a0b25"/><stop offset="0.100" stop-color="#b1182b"/><stop offset="0.150" stop-color="#c43b3c"/><stop offset="0.200" stop-color="#d6604d"/><stop offset="0.250" stop-color="#e48066"/><stop offset="0.300" stop-color="#f3a481"/><stop offset="0.350" stop-color="#f8bfa4"/><stop offset="0.400" stop-color="#fddbc7"/><stop offset="0.450" stop-color="#fae9df"/><stop offset="0.500" stop-color="#f7f6f6"/><stop offset="0.550" stop-color="#e4eef4"/><stop offset="0.600" stop-color="#d1e5f0"/><stop offset="0.650" stop-color="#b1d5e7"/><stop offset="0.700" stop-color="#90c4dd"/><stop offset="0.750" stop-color="#6bacd1"/><stop offset="0.800" stop-color="#4393c3"/><stop offset="0.850" stop-color="#327cb7"/><stop offset="0.900" stop-color="#2065ab"/><stop offset="0.950" stop-color="#124984"/><stop offset="1.000" stop-color="#053061"/></linearGradient></defs>
<rect x="400.00" y="12.10" width="15.50" height="53.60" fill="url(#gBeta12)"/>
<line x1="415.50" y1="12.10" x2="417.00" y2="12.10" stroke="#555" stroke-width="0.5"/>
<text x="418.00" y="14.10" font-size="5.6" fill="#333" text-anchor="start">1.0</text>
<line x1="415.50" y1="25.50" x2="417.00" y2="25.50" stroke="#555" stroke-width="0.5"/>
<text x="418.00" y="27.50" font-size="5.6" fill="#333" text-anchor="start">0.5</text>
<line x1="415.50" y1="38.90" x2="417.00" y2="38.90" stroke="#555" stroke-width="0.5"/>
<text x="418.00" y="40.90" font-size="5.6" fill="#333" text-anchor="start">0.0</text>
<line x1="415.50" y1="52.30" x2="417.00" y2="52.30" stroke="#555" stroke-width="0.5"/>
<text x="418.00" y="54.30" font-size="5.6" fill="#333" text-anchor="start">−0.5</text>
<line x1="415.50" y1="65.70" x2="417.00" y2="65.70" stroke="#555" stroke-width="0.5"/>
<text x="418.00" y="67.70" font-size="5.6" fill="#333" text-anchor="start">−1.0</text>
<text x="444.20" y="37.80" font-size="7.5" fill="#222" text-anchor="middle" transform="rotate(-90 444.2 37.8)">Beta (regulators)</text>
<text x="385.60" y="7.10" font-size="12.5" fill="#000" text-anchor="start" font-weight="bold">c</text>
<polyline points="464.44,67.70 464.44,52.30 497.31,52.30 497.31,67.70" fill="none" stroke="#777" stroke-width="0.7"/>
<polyline points="530.17,67.70 530.17,45.50 563.04,45.50 563.04,67.70" fill="none" stroke="#777" stroke-width="0.7"/>
<polyline points="480.87,52.30 480.87,35.40 546.61,35.40 546.61,45.50" fill="none" stroke="#777" stroke-width="0.7"/>
<polyline points="595.91,67.70 595.91,27.30 628.78,27.30 628.78,67.70" fill="none" stroke="#777" stroke-width="0.7"/>
<polyline points="513.74,35.40 513.74,13.10 612.35,13.10 612.35,27.30" fill="none" stroke="#777" stroke-width="0.7"/>
<polyline points="447.90,99.58 441.80,99.58 441.80,108.69 447.90,108.69" fill="none" stroke="#777" stroke-width="0.7"/>
<polyline points="447.90,90.47 439.60,90.47 439.60,104.13 441.80,104.13" fill="none" stroke="#777" stroke-width="0.7"/>
<polyline points="447.90,117.79 439.60,117.79 439.60,126.90 447.90,126.90" fill="none" stroke="#777" stroke-width="0.7"/>
<polyline points="439.60,97.30 433.50,97.30 433.50,122.35 439.60,122.35" fill="none" stroke="#777" stroke-width="0.7"/>
<polyline points="447.90,81.36 423.30,81.36 423.30,109.82 433.50,109.82" fill="none" stroke="#777" stroke-width="0.7"/>
<polyline points="447.90,145.12 441.50,145.12 441.50,154.23 447.90,154.23" fill="none" stroke="#777" stroke-width="0.7"/>
<polyline points="447.90,136.01 431.10,136.01 431.10,149.67 441.50,149.67" fill="none" stroke="#777" stroke-width="0.7"/>
<polyline points="447.90,172.44 442.50,172.44 442.50,181.55 447.90,181.55" fill="none" stroke="#777" stroke-width="0.7"/>
<polyline points="447.90,163.33 438.50,163.33 438.50,177.00 442.50,177.00" fill="none" stroke="#777" stroke-width="0.7"/>
<polyline points="447.90,190.66 440.70,190.66 440.70,199.77 447.90,199.77" fill="none" stroke="#777" stroke-width="0.7"/>
<polyline points="447.90,217.98 443.70,217.98 443.70,227.09 447.90,227.09" fill="none" stroke="#777" stroke-width="0.7"/>
<polyline points="447.90,208.87 438.70,208.87 438.70,222.54 443.70,222.54" fill="none" stroke="#777" stroke-width="0.7"/>
<polyline points="447.90,245.31 442.40,245.31 442.40,254.41 447.90,254.41" fill="none" stroke="#777" stroke-width="0.7"/>
<polyline points="447.90,236.20 440.00,236.20 440.00,249.86 442.40,249.86" fill="none" stroke="#777" stroke-width="0.7"/>
<polyline points="447.90,281.74 443.60,281.74 443.60,290.85 447.90,290.85" fill="none" stroke="#777" stroke-width="0.7"/>
<polyline points="447.90,272.63 442.40,272.63 442.40,286.29 443.60,286.29" fill="none" stroke="#777" stroke-width="0.7"/>
<polyline points="447.90,263.52 439.50,263.52 439.50,279.46 442.40,279.46" fill="none" stroke="#777" stroke-width="0.7"/>
<polyline points="440.00,243.03 438.30,243.03 438.30,271.49 439.50,271.49" fill="none" stroke="#777" stroke-width="0.7"/>
<polyline points="438.70,215.70 436.30,215.70 436.30,257.26 438.30,257.26" fill="none" stroke="#777" stroke-width="0.7"/>
<polyline points="440.70,195.21 433.50,195.21 433.50,236.48 436.30,236.48" fill="none" stroke="#777" stroke-width="0.7"/>
<polyline points="438.50,170.16 429.70,170.16 429.70,215.85 433.50,215.85" fill="none" stroke="#777" stroke-width="0.7"/>
<polyline points="431.10,142.84 422.30,142.84 422.30,193.01 429.70,193.01" fill="none" stroke="#777" stroke-width="0.7"/>
<polyline points="423.30,95.59 412.00,95.59 412.00,167.92 422.30,167.92" fill="none" stroke="#777" stroke-width="0.7"/>
<polyline points="447.90,72.25 401.40,72.25 401.40,131.76 412.00,131.76" fill="none" stroke="#777" stroke-width="0.7"/>
<rect x="448.00" y="67.70" width="32.92" height="9.16" fill="#fbe6da"/>
<rect x="480.87" y="67.70" width="32.92" height="9.16" fill="#fae9df"/>
<rect x="513.74" y="67.70" width="32.92" height="9.16" fill="#f9c6ac"/>
<rect x="546.61" y="67.70" width="32.92" height="9.16" fill="#ef9979"/>
<rect x="579.48" y="67.70" width="32.92" height="9.16" fill="#67001f"/>
<rect x="612.35" y="67.70" width="32.92" height="9.16" fill="#e48066"/>
<rect x="448.00" y="76.81" width="32.92" height="9.16" fill="#fbe6da"/>
<rect x="480.87" y="76.81" width="32.92" height="9.16" fill="#fae9df"/>
<rect x="513.74" y="76.81" width="32.92" height="9.16" fill="#fddbc7"/>
<rect x="546.61" y="76.81" width="32.92" height="9.16" fill="#fbe5d8"/>
<rect x="579.48" y="76.81" width="32.92" height="9.16" fill="#71b0d3"/>
<rect x="612.35" y="76.81" width="32.92" height="9.16" fill="#cce2ef"/>
<rect x="448.00" y="85.92" width="32.92" height="9.16" fill="#e4eef4"/>
<rect x="480.87" y="85.92" width="32.92" height="9.16" fill="#e7f0f4"/>
<rect x="513.74" y="85.92" width="32.92" height="9.16" fill="#f8f4f2"/>
<rect x="546.61" y="85.92" width="32.92" height="9.16" fill="#e4eef4"/>
<rect x="579.48" y="85.92" width="32.92" height="9.16" fill="#dae9f2"/>
<rect x="612.35" y="85.92" width="32.92" height="9.16" fill="#edf2f5"/>
<rect x="448.00" y="95.02" width="32.92" height="9.16" fill="#e4eef4"/>
<rect x="480.87" y="95.02" width="32.92" height="9.16" fill="#dae9f2"/>
<rect x="513.74" y="95.02" width="32.92" height="9.16" fill="#dae9f2"/>
<rect x="546.61" y="95.02" width="32.92" height="9.16" fill="#b8d8e9"/>
<rect x="579.48" y="95.02" width="32.92" height="9.16" fill="#dae9f2"/>
<rect x="612.35" y="95.02" width="32.92" height="9.16" fill="#edf2f5"/>
<rect x="448.00" y="104.13" width="32.92" height="9.16" fill="#e4eef4"/>
<rect x="480.87" y="104.13" width="32.92" height="9.16" fill="#eaf1f5"/>
<rect x="513.74" y="104.13" width="32.92" height="9.16" fill="#e4eef4"/>
<rect x="546.61" y="104.13" width="32.92" height="9.16" fill="#d5e7f1"/>
<rect x="579.48" y="104.13" width="32.92" height="9.16" fill="#d1e5f0"/>
<rect x="612.35" y="104.13" width="32.92" height="9.16" fill="#dae9f2"/>
<rect x="448.00" y="113.24" width="32.92" height="9.16" fill="#e0ecf3"/>
<rect x="480.87" y="113.24" width="32.92" height="9.16" fill="#e0ecf3"/>
<rect x="513.74" y="113.24" width="32.92" height="9.16" fill="#dae9f2"/>
<rect x="546.61" y="113.24" width="32.92" height="9.16" fill="#d7e8f1"/>
<rect x="579.48" y="113.24" width="32.92" height="9.16" fill="#a0cce2"/>
<rect x="612.35" y="113.24" width="32.92" height="9.16" fill="#acd2e5"/>
<rect x="448.00" y="122.35" width="32.92" height="9.16" fill="#c5dfec"/>
<rect x="480.87" y="122.35" width="32.92" height="9.16" fill="#edf2f5"/>
<rect x="513.74" y="122.35" width="32.92" height="9.16" fill="#dae9f2"/>
<rect x="546.61" y="122.35" width="32.92" height="9.16" fill="#d1e5f0"/>
<rect x="579.48" y="122.35" width="32.92" height="9.16" fill="#62a7ce"/>
<rect x="612.35" y="122.35" width="32.92" height="9.16" fill="#d1e5f0"/>
<rect x="448.00" y="131.46" width="32.92" height="9.16" fill="#f8f3f0"/>
<rect x="480.87" y="131.46" width="32.92" height="9.16" fill="#eff3f5"/>
<rect x="513.74" y="131.46" width="32.92" height="9.16" fill="#ddebf2"/>
<rect x="546.61" y="131.46" width="32.92" height="9.16" fill="#d8e9f1"/>
<rect x="579.48" y="131.46" width="32.92" height="9.16" fill="#e6866a"/>
<rect x="612.35" y="131.46" width="32.92" height="9.16" fill="#f9c6ac"/>
<rect x="448.00" y="140.56" width="32.92" height="9.16" fill="#e4eef4"/>
<rect x="480.87" y="140.56" width="32.92" height="9.16" fill="#edf2f5"/>
<rect x="513.74" y="140.56" width="32.92" height="9.16" fill="#ddebf2"/>
<rect x="546.61" y="140.56" width="32.92" height="9.16" fill="#d1e5f0"/>
<rect x="579.48" y="140.56" width="32.92" height="9.16" fill="#fae7dc"/>
<rect x="612.35" y="140.56" width="32.92" height="9.16" fill="#fae9df"/>
<rect x="448.00" y="149.67" width="32.92" height="9.16" fill="#e7f0f4"/>
<rect x="480.87" y="149.67" width="32.92" height="9.16" fill="#f3f5f6"/>
<rect x="513.74" y="149.67" width="32.92" height="9.16" fill="#d1e5f0"/>
<rect x="546.61" y="149.67" width="32.92" height="9.16" fill="#e6eff4"/>
<rect x="579.48" y="149.67" width="32.92" height="9.16" fill="#fddbc7"/>
<rect x="612.35" y="149.67" width="32.92" height="9.16" fill="#faeae1"/>
<rect x="448.00" y="158.78" width="32.92" height="9.16" fill="#fdd9c4"/>
<rect x="480.87" y="158.78" width="32.92" height="9.16" fill="#fcdfcf"/>
<rect x="513.74" y="158.78" width="32.92" height="9.16" fill="#f8bda1"/>
<rect x="546.61" y="158.78" width="32.92" height="9.16" fill="#e27b62"/>
<rect x="579.48" y="158.78" width="32.92" height="9.16" fill="#f6b191"/>
<rect x="612.35" y="158.78" width="32.92" height="9.16" fill="#fcdecd"/>
<rect x="448.00" y="167.89" width="32.92" height="9.16" fill="#fddbc7"/>
<rect x="480.87" y="167.89" width="32.92" height="9.16" fill="#fbe6da"/>
<rect x="513.74" y="167.89" width="32.92" height="9.16" fill="#f8bda1"/>
<rect x="546.61" y="167.89" width="32.92" height="9.16" fill="#ef9979"/>
<rect x="579.48" y="167.89" width="32.92" height="9.16" fill="#ea8e70"/>
<rect x="612.35" y="167.89" width="32.92" height="9.16" fill="#f9c6ac"/>
<rect x="448.00" y="177.00" width="32.92" height="9.16" fill="#fddbc7"/>
<rect x="480.87" y="177.00" width="32.92" height="9.16" fill="#fce2d2"/>
<rect x="513.74" y="177.00" width="32.92" height="9.16" fill="#f8bda1"/>
<rect x="546.61" y="177.00" width="32.92" height="9.16" fill="#f6b394"/>
<rect x="579.48" y="177.00" width="32.92" height="9.16" fill="#ea8e70"/>
<rect x="612.35" y="177.00" width="32.92" height="9.16" fill="#f8bb9e"/>
<rect x="448.00" y="186.10" width="32.92" height="9.16" fill="#fcdfcf"/>
<rect x="480.87" y="186.10" width="32.92" height="9.16" fill="#fce2d2"/>
<rect x="513.74" y="186.10" width="32.92" height="9.16" fill="#f9ebe3"/>
<rect x="546.61" y="186.10" width="32.92" height="9.16" fill="#fce2d2"/>
<rect x="579.48" y="186.10" width="32.92" height="9.16" fill="#fddbc7"/>
<rect x="612.35" y="186.10" width="32.92" height="9.16" fill="#f6b394"/>
<rect x="448.00" y="195.21" width="32.92" height="9.16" fill="#fbe6da"/>
<rect x="480.87" y="195.21" width="32.92" height="9.16" fill="#f9eee7"/>
<rect x="513.74" y="195.21" width="32.92" height="9.16" fill="#fae9df"/>
<rect x="546.61" y="195.21" width="32.92" height="9.16" fill="#fbe5d8"/>
<rect x="579.48" y="195.21" width="32.92" height="9.16" fill="#f9c6ac"/>
<rect x="612.35" y="195.21" width="32.92" height="9.16" fill="#ef9979"/>
<rect x="448.00" y="204.32" width="32.92" height="9.16" fill="#edf2f5"/>
<rect x="480.87" y="204.32" width="32.92" height="9.16" fill="#e7f0f4"/>
<rect x="513.74" y="204.32" width="32.92" height="9.16" fill="#f9ebe3"/>
<rect x="546.61" y="204.32" width="32.92" height="9.16" fill="#fce2d2"/>
<rect x="579.48" y="204.32" width="32.92" height="9.16" fill="#fbe5d8"/>
<rect x="612.35" y="204.32" width="32.92" height="9.16" fill="#f8f3f0"/>
<rect x="448.00" y="213.43" width="32.92" height="9.16" fill="#fae9df"/>
<rect x="480.87" y="213.43" width="32.92" height="9.16" fill="#f7f5f4"/>
<rect x="513.74" y="213.43" width="32.92" height="9.16" fill="#fbe6da"/>
<rect x="546.61" y="213.43" width="32.92" height="9.16" fill="#fbe6da"/>
<rect x="579.48" y="213.43" width="32.92" height="9.16" fill="#f9ebe3"/>
<rect x="612.35" y="213.43" width="32.92" height="9.16" fill="#f9eee7"/>
<rect x="448.00" y="222.54" width="32.92" height="9.16" fill="#f9ebe3"/>
<rect x="480.87" y="222.54" width="32.92" height="9.16" fill="#f9f0eb"/>
<rect x="513.74" y="222.54" width="32.92" height="9.16" fill="#fae9df"/>
<rect x="546.61" y="222.54" width="32.92" height="9.16" fill="#f9eee7"/>
<rect x="579.48" y="222.54" width="32.92" height="9.16" fill="#f8f4f2"/>
<rect x="612.35" y="222.54" width="32.92" height="9.16" fill="#fbe6da"/>
<rect x="448.00" y="231.64" width="32.92" height="9.16" fill="#f9f0eb"/>
<rect x="480.87" y="231.64" width="32.92" height="9.16" fill="#fae9df"/>
<rect x="513.74" y="231.64" width="32.92" height="9.16" fill="#fbe5d8"/>
<rect x="546.61" y="231.64" width="32.92" height="9.16" fill="#fae9df"/>
<rect x="579.48" y="231.64" width="32.92" height="9.16" fill="#f7b596"/>
<rect x="612.35" y="231.64" width="32.92" height="9.16" fill="#fcd7c2"/>
<rect x="448.00" y="240.75" width="32.92" height="9.16" fill="#fbe6da"/>
<rect x="480.87" y="240.75" width="32.92" height="9.16" fill="#f8f4f2"/>
<rect x="513.74" y="240.75" width="32.92" height="9.16" fill="#fce2d2"/>
<rect x="546.61" y="240.75" width="32.92" height="9.16" fill="#f9ebe3"/>
<rect x="579.48" y="240.75" width="32.92" height="9.16" fill="#f9c6ac"/>
<rect x="612.35" y="240.75" width="32.92" height="9.16" fill="#fcdecd"/>
<rect x="448.00" y="249.86" width="32.92" height="9.16" fill="#fbe6da"/>
<rect x="480.87" y="249.86" width="32.92" height="9.16" fill="#f8f4f2"/>
<rect x="513.74" y="249.86" width="32.92" height="9.16" fill="#fddbc7"/>
<rect x="546.61" y="249.86" width="32.92" height="9.16" fill="#fce2d2"/>
<rect x="579.48" y="249.86" width="32.92" height="9.16" fill="#fbccb4"/>
<rect x="612.35" y="249.86" width="32.92" height="9.16" fill="#f9eee7"/>
<rect x="448.00" y="258.97" width="32.92" height="9.16" fill="#fce2d2"/>
<rect x="480.87" y="258.97" width="32.92" height="9.16" fill="#f9efe9"/>
<rect x="513.74" y="258.97" width="32.92" height="9.16" fill="#fbccb4"/>
<rect x="546.61" y="258.97" width="32.92" height="9.16" fill="#f7b596"/>
<rect x="579.48" y="258.97" width="32.92" height="9.16" fill="#fbd0b9"/>
<rect x="612.35" y="258.97" width="32.92" height="9.16" fill="#f9c2a7"/>
<rect x="448.00" y="268.08" width="32.92" height="9.16" fill="#fae7dc"/>
<rect x="480.87" y="268.08" width="32.92" height="9.16" fill="#f8f4f2"/>
<rect x="513.74" y="268.08" width="32.92" height="9.16" fill="#fddbc7"/>
<rect x="546.61" y="268.08" width="32.92" height="9.16" fill="#f7b596"/>
<rect x="579.48" y="268.08" width="32.92" height="9.16" fill="#fce0d0"/>
<rect x="612.35" y="268.08" width="32.92" height="9.16" fill="#f9efe9"/>
<rect x="448.00" y="277.18" width="32.92" height="9.16" fill="#fce2d2"/>
<rect x="480.87" y="277.18" width="32.92" height="9.16" fill="#f9efe9"/>
<rect x="513.74" y="277.18" width="32.92" height="9.16" fill="#fcd7c2"/>
<rect x="546.61" y="277.18" width="32.92" height="9.16" fill="#f8bb9e"/>
<rect x="579.48" y="277.18" width="32.92" height="9.16" fill="#fddbc7"/>
<rect x="612.35" y="277.18" width="32.92" height="9.16" fill="#fce2d2"/>
<rect x="448.00" y="286.29" width="32.92" height="9.16" fill="#fce2d2"/>
<rect x="480.87" y="286.29" width="32.92" height="9.16" fill="#f9f0eb"/>
<rect x="513.74" y="286.29" width="32.92" height="9.16" fill="#fce2d2"/>
<rect x="546.61" y="286.29" width="32.92" height="9.16" fill="#f9c6ac"/>
<rect x="579.48" y="286.29" width="32.92" height="9.16" fill="#fce0d0"/>
<rect x="612.35" y="286.29" width="32.92" height="9.16" fill="#fbe6da"/>
<circle cx="464.44" cy="71.05" r="0.55" fill="#444"/>
<circle cx="497.31" cy="71.05" r="0.55" fill="#444"/>
<circle cx="530.17" cy="71.05" r="0.55" fill="#444"/>
<circle cx="563.04" cy="71.05" r="0.55" fill="#f4e0e0"/>
<circle cx="595.91" cy="71.05" r="0.55" fill="#f4e0e0"/>
<circle cx="628.78" cy="71.05" r="0.55" fill="#f4e0e0"/>
<circle cx="464.44" cy="80.16" r="0.55" fill="#444"/>
<circle cx="497.31" cy="80.16" r="0.55" fill="#444"/>
<circle cx="530.17" cy="80.16" r="0.55" fill="#444"/>
<circle cx="563.04" cy="80.16" r="0.55" fill="#444"/>
<circle cx="595.91" cy="80.16" r="0.55" fill="#f4e0e0"/>
<circle cx="628.78" cy="80.16" r="0.55" fill="#444"/>
<circle cx="464.44" cy="89.27" r="0.55" fill="#444"/>
<circle cx="595.91" cy="89.27" r="0.55" fill="#444"/>
<circle cx="464.44" cy="98.38" r="0.55" fill="#444"/>
<circle cx="497.31" cy="98.38" r="0.55" fill="#444"/>
<circle cx="530.17" cy="98.38" r="0.55" fill="#444"/>
<circle cx="563.04" cy="98.38" r="0.55" fill="#444"/>
<circle cx="595.91" cy="98.38" r="0.55" fill="#444"/>
<circle cx="464.44" cy="107.49" r="0.55" fill="#444"/>
<circle cx="563.04" cy="107.49" r="0.55" fill="#444"/>
<circle cx="595.91" cy="107.49" r="0.55" fill="#444"/>
<circle cx="628.78" cy="107.49" r="0.55" fill="#444"/>
<circle cx="464.44" cy="116.59" r="0.55" fill="#444"/>
<circle cx="497.31" cy="116.59" r="0.55" fill="#444"/>
<circle cx="530.17" cy="116.59" r="0.55" fill="#444"/>
<circle cx="563.04" cy="116.59" r="0.55" fill="#444"/>
<circle cx="595.91" cy="116.59" r="0.55" fill="#444"/>
<circle cx="628.78" cy="116.59" r="0.55" fill="#444"/>
<circle cx="464.44" cy="125.70" r="0.55" fill="#444"/>
<circle cx="530.17" cy="125.70" r="0.55" fill="#444"/>
<circle cx="563.04" cy="125.70" r="0.55" fill="#444"/>
<circle cx="595.91" cy="125.70" r="0.55" fill="#f4e0e0"/>
<circle cx="628.78" cy="125.70" r="0.55" fill="#444"/>
<circle cx="530.17" cy="134.81" r="0.55" fill="#444"/>
<circle cx="563.04" cy="134.81" r="0.55" fill="#444"/>
<circle cx="595.91" cy="134.81" r="0.55" fill="#f4e0e0"/>
<circle cx="628.78" cy="134.81" r="0.55" fill="#444"/>
<circle cx="464.44" cy="143.92" r="0.55" fill="#444"/>
<circle cx="530.17" cy="143.92" r="0.55" fill="#444"/>
<circle cx="563.04" cy="143.92" r="0.55" fill="#444"/>
<circle cx="595.91" cy="143.92" r="0.55" fill="#444"/>
<circle cx="628.78" cy="143.92" r="0.55" fill="#444"/>
<circle cx="530.17" cy="153.03" r="0.55" fill="#444"/>
<circle cx="595.91" cy="153.03" r="0.55" fill="#444"/>
<circle cx="464.44" cy="162.13" r="0.55" fill="#444"/>
<circle cx="497.31" cy="162.13" r="0.55" fill="#444"/>
<circle cx="530.17" cy="162.13" r="0.55" fill="#444"/>
<circle cx="563.04" cy="162.13" r="0.55" fill="#f4e0e0"/>
<circle cx="595.91" cy="162.13" r="0.55" fill="#444"/>
<circle cx="628.78" cy="162.13" r="0.55" fill="#444"/>
<circle cx="464.44" cy="171.24" r="0.55" fill="#444"/>
<circle cx="497.31" cy="171.24" r="0.55" fill="#444"/>
<circle cx="530.17" cy="171.24" r="0.55" fill="#444"/>
<circle cx="563.04" cy="171.24" r="0.55" fill="#f4e0e0"/>
<circle cx="595.91" cy="171.24" r="0.55" fill="#f4e0e0"/>
<circle cx="628.78" cy="171.24" r="0.55" fill="#444"/>
<circle cx="464.44" cy="180.35" r="0.55" fill="#444"/>
<circle cx="497.31" cy="180.35" r="0.55" fill="#444"/>
<circle cx="530.17" cy="180.35" r="0.55" fill="#444"/>
<circle cx="563.04" cy="180.35" r="0.55" fill="#444"/>
<circle cx="595.91" cy="180.35" r="0.55" fill="#f4e0e0"/>
<circle cx="628.78" cy="180.35" r="0.55" fill="#444"/>
<circle cx="464.44" cy="189.46" r="0.55" fill="#444"/>
<circle cx="497.31" cy="189.46" r="0.55" fill="#444"/>
<circle cx="563.04" cy="189.46" r="0.55" fill="#444"/>
<circle cx="595.91" cy="189.46" r="0.55" fill="#444"/>
<circle cx="628.78" cy="189.46" r="0.55" fill="#444"/>
<circle cx="464.44" cy="198.57" r="0.55" fill="#444"/>
<circle cx="563.04" cy="198.57" r="0.55" fill="#444"/>
<circle cx="595.91" cy="198.57" r="0.55" fill="#444"/>
<circle cx="628.78" cy="198.57" r="0.55" fill="#f4e0e0"/>
<circle cx="563.04" cy="207.67" r="0.55" fill="#444"/>
<circle cx="595.91" cy="207.67" r="0.55" fill="#444"/>
<circle cx="628.78" cy="207.67" r="0.55" fill="#444"/>
<circle cx="464.44" cy="216.78" r="0.55" fill="#444"/>
<circle cx="530.17" cy="216.78" r="0.55" fill="#444"/>
<circle cx="563.04" cy="216.78" r="0.55" fill="#444"/>
<circle cx="595.91" cy="216.78" r="0.55" fill="#444"/>
<circle cx="530.17" cy="225.89" r="0.55" fill="#444"/>
<circle cx="563.04" cy="225.89" r="0.55" fill="#444"/>
<circle cx="628.78" cy="225.89" r="0.55" fill="#444"/>
<circle cx="497.31" cy="235.00" r="0.55" fill="#444"/>
<circle cx="530.17" cy="235.00" r="0.55" fill="#444"/>
<circle cx="563.04" cy="235.00" r="0.55" fill="#444"/>
<circle cx="595.91" cy="235.00" r="0.55" fill="#444"/>
<circle cx="628.78" cy="235.00" r="0.55" fill="#444"/>
<circle cx="464.44" cy="244.11" r="0.55" fill="#444"/>
<circle cx="530.17" cy="244.11" r="0.55" fill="#444"/>
<circle cx="563.04" cy="244.11" r="0.55" fill="#444"/>
<circle cx="595.91" cy="244.11" r="0.55" fill="#444"/>
<circle cx="628.78" cy="244.11" r="0.55" fill="#444"/>
<circle cx="464.44" cy="253.21" r="0.55" fill="#444"/>
<circle cx="530.17" cy="253.21" r="0.55" fill="#444"/>
<circle cx="563.04" cy="253.21" r="0.55" fill="#444"/>
<circle cx="595.91" cy="253.21" r="0.55" fill="#444"/>
<circle cx="628.78" cy="253.21" r="0.55" fill="#444"/>
<circle cx="464.44" cy="262.32" r="0.55" fill="#444"/>
<circle cx="530.17" cy="262.32" r="0.55" fill="#444"/>
<circle cx="563.04" cy="262.32" r="0.55" fill="#444"/>
<circle cx="595.91" cy="262.32" r="0.55" fill="#444"/>
<circle cx="628.78" cy="262.32" r="0.55" fill="#444"/>
<circle cx="464.44" cy="271.43" r="0.55" fill="#444"/>
<circle cx="530.17" cy="271.43" r="0.55" fill="#444"/>
<circle cx="563.04" cy="271.43" r="0.55" fill="#444"/>
<circle cx="595.91" cy="271.43" r="0.55" fill="#444"/>
<circle cx="464.44" cy="280.54" r="0.55" fill="#444"/>
<circle cx="530.17" cy="280.54" r="0.55" fill="#444"/>
<circle cx="563.04" cy="280.54" r="0.55" fill="#444"/>
<circle cx="595.91" cy="280.54" r="0.55" fill="#444"/>
<circle cx="628.78" cy="280.54" r="0.55" fill="#444"/>
<circle cx="464.44" cy="289.65" r="0.55" fill="#444"/>
<circle cx="530.17" cy="289.65" r="0.55" fill="#444"/>
<circle cx="563.04" cy="289.65" r="0.55" fill="#444"/>
<circle cx="595.91" cy="289.65" r="0.55" fill="#444"/>
<circle cx="628.78" cy="289.65" r="0.55" fill="#444"/>
<line x1="645.22" y1="72.25" x2="646.72" y2="72.25" stroke="#444" stroke-width="0.5"/>
<text x="647.72" y="74.05" font-size="5.0" fill="#222" text-anchor="start">FABP3</text>
<line x1="645.22" y1="81.36" x2="646.72" y2="81.36" stroke="#444" stroke-width="0.5"/>
<text x="647.72" y="83.16" font-size="5.0" fill="#222" text-anchor="start">ITIH3</text>
<line x1="645.22" y1="90.47" x2="646.72" y2="90.47" stroke="#444" stroke-width="0.5"/>
<text x="647.72" y="92.27" font-size="5.0" fill="#222" text-anchor="start">CSH1|CSH2</text>
<line x1="645.22" y1="99.58" x2="646.72" y2="99.58" stroke="#444" stroke-width="0.5"/>
<text x="647.72" y="101.38" font-size="5.0" fill="#222" text-anchor="start">AIPL1</text>
<line x1="645.22" y1="108.69" x2="646.72" y2="108.69" stroke="#444" stroke-width="0.5"/>
<text x="647.72" y="110.49" font-size="5.0" fill="#222" text-anchor="start">KEAP1</text>
<line x1="645.22" y1="117.79" x2="646.72" y2="117.79" stroke="#444" stroke-width="0.5"/>
<text x="647.72" y="119.59" font-size="5.0" fill="#222" text-anchor="start">C11orf49,LRP4</text>
<line x1="645.22" y1="126.90" x2="646.72" y2="126.90" stroke="#444" stroke-width="0.5"/>
<text x="647.72" y="128.70" font-size="5.0" fill="#222" text-anchor="start">APOA5</text>
<line x1="645.22" y1="136.01" x2="646.72" y2="136.01" stroke="#444" stroke-width="0.5"/>
<text x="647.72" y="137.81" font-size="5.0" fill="#222" text-anchor="start">AFM</text>
<line x1="645.22" y1="145.12" x2="646.72" y2="145.12" stroke="#444" stroke-width="0.5"/>
<text x="647.72" y="146.92" font-size="5.0" fill="#222" text-anchor="start">MRRF</text>
<line x1="645.22" y1="154.23" x2="646.72" y2="154.23" stroke="#444" stroke-width="0.5"/>
<text x="647.72" y="156.03" font-size="5.0" fill="#222" text-anchor="start">KLKB1</text>
<line x1="645.22" y1="163.33" x2="646.72" y2="163.33" stroke="#444" stroke-width="0.5"/>
<text x="647.72" y="165.13" font-size="5.0" fill="#222" text-anchor="start">GABARAP</text>
<line x1="645.22" y1="172.44" x2="646.72" y2="172.44" stroke="#444" stroke-width="0.5"/>
<text x="647.72" y="174.24" font-size="5.0" fill="#222" text-anchor="start">COL28A1</text>
<line x1="645.22" y1="181.55" x2="646.72" y2="181.55" stroke="#444" stroke-width="0.5"/>
<text x="647.72" y="183.35" font-size="5.0" fill="#222" text-anchor="start">NUDT21</text>
<line x1="645.22" y1="190.66" x2="646.72" y2="190.66" stroke="#444" stroke-width="0.5"/>
<text x="647.72" y="192.46" font-size="5.0" fill="#222" text-anchor="start">CFB</text>
<line x1="645.22" y1="199.77" x2="646.72" y2="199.77" stroke="#444" stroke-width="0.5"/>
<text x="647.72" y="201.57" font-size="5.0" fill="#222" text-anchor="start">C2</text>
<line x1="645.22" y1="208.87" x2="646.72" y2="208.87" stroke="#444" stroke-width="0.5"/>
<text x="647.72" y="210.67" font-size="5.0" fill="#222" text-anchor="start">DCTN2</text>
<line x1="645.22" y1="217.98" x2="646.72" y2="217.98" stroke="#444" stroke-width="0.5"/>
<text x="647.72" y="219.78" font-size="5.0" fill="#222" text-anchor="start">CSF3</text>
<line x1="645.22" y1="227.09" x2="646.72" y2="227.09" stroke="#444" stroke-width="0.5"/>
<text x="647.72" y="228.89" font-size="5.0" fill="#222" text-anchor="start">RFC4</text>
<line x1="645.22" y1="236.20" x2="646.72" y2="236.20" stroke="#444" stroke-width="0.5"/>
<text x="647.72" y="238.00" font-size="5.0" fill="#222" text-anchor="start">GAL3ST1</text>
<line x1="645.22" y1="245.31" x2="646.72" y2="245.31" stroke="#444" stroke-width="0.5"/>
<text x="647.72" y="247.11" font-size="5.0" fill="#222" text-anchor="start">PCDH8</text>
<line x1="645.22" y1="254.41" x2="646.72" y2="254.41" stroke="#444" stroke-width="0.5"/>
<text x="647.72" y="256.21" font-size="5.0" fill="#222" text-anchor="start">DDX39B</text>
<line x1="645.22" y1="263.52" x2="646.72" y2="263.52" stroke="#444" stroke-width="0.5"/>
<text x="647.72" y="265.32" font-size="5.0" fill="#222" text-anchor="start">HSPA1A</text>
<line x1="645.22" y1="272.63" x2="646.72" y2="272.63" stroke="#444" stroke-width="0.5"/>
<text x="647.72" y="274.43" font-size="5.0" fill="#222" text-anchor="start">IZUMO1</text>
<line x1="645.22" y1="281.74" x2="646.72" y2="281.74" stroke="#444" stroke-width="0.5"/>
<text x="647.72" y="283.54" font-size="5.0" fill="#222" text-anchor="start">HSPA1B</text>
<line x1="645.22" y1="290.85" x2="646.72" y2="290.85" stroke="#444" stroke-width="0.5"/>
<text x="647.72" y="292.65" font-size="5.0" fill="#222" text-anchor="start">PTPN11</text>
<line x1="464.44" y1="295.40" x2="464.44" y2="297.00" stroke="#444" stroke-width="0.5"/>
<text x="464.83" y="303.60" font-size="7.0" fill="#2dc42d" text-anchor="middle" font-weight="bold">CAC</text>
<line x1="497.31" y1="295.40" x2="497.31" y2="297.00" stroke="#444" stroke-width="0.5"/>
<text x="497.70" y="303.60" font-size="7.0" fill="#35c835" text-anchor="middle" font-weight="bold">Plaque</text>
<line x1="530.17" y1="295.40" x2="530.17" y2="297.00" stroke="#444" stroke-width="0.5"/>
<text x="530.57" y="303.60" font-size="7.0" fill="#2a2aff" text-anchor="middle" font-weight="bold">MI</text>
<line x1="563.04" y1="295.40" x2="563.04" y2="297.00" stroke="#444" stroke-width="0.5"/>
<text x="563.44" y="303.60" font-size="7.0" fill="#5555ff" text-anchor="middle" font-weight="bold">HF</text>
<line x1="595.91" y1="295.40" x2="595.91" y2="297.00" stroke="#444" stroke-width="0.5"/>
<text x="596.31" y="303.60" font-size="7.0" fill="#ff1f1f" text-anchor="middle" font-weight="bold">MetS</text>
<line x1="628.78" y1="295.40" x2="628.78" y2="297.00" stroke="#444" stroke-width="0.5"/>
<text x="629.18" y="303.60" font-size="7.0" fill="#ff3a3a" text-anchor="middle" font-weight="bold">T2D</text>
<defs><linearGradient id="gBeta341" x1="0" y1="0" x2="0" y2="1"><stop offset="0.000" stop-color="#67001f"/><stop offset="0.050" stop-color="#8a0b25"/><stop offset="0.100" stop-color="#b1182b"/><stop offset="0.150" stop-color="#c43b3c"/><stop offset="0.200" stop-color="#d6604d"/><stop offset="0.250" stop-color="#e48066"/><stop offset="0.300" stop-color="#f3a481"/><stop offset="0.350" stop-color="#f8bfa4"/><stop offset="0.400" stop-color="#fddbc7"/><stop offset="0.450" stop-color="#fae9df"/><stop offset="0.500" stop-color="#f7f6f6"/><stop offset="0.550" stop-color="#e4eef4"/><stop offset="0.600" stop-color="#d1e5f0"/><stop offset="0.650" stop-color="#b1d5e7"/><stop offset="0.700" stop-color="#90c4dd"/><stop offset="0.750" stop-color="#6bacd1"/><stop offset="0.800" stop-color="#4393c3"/><stop offset="0.850" stop-color="#327cb7"/><stop offset="0.900" stop-color="#2065ab"/><stop offset="0.950" stop-color="#124984"/><stop offset="1.000" stop-color="#053061"/></linearGradient></defs>
<rect x="399.00" y="341.00" width="15.00" height="53.60" fill="url(#gBeta341)"/>
<line x1="414.00" y1="341.00" x2="415.50" y2="341.00" stroke="#555" stroke-width="0.5"/>
<text x="416.50" y="343.00" font-size="5.6" fill="#333" text-anchor="start">1.0</text>
<line x1="414.00" y1="354.40" x2="415.50" y2="354.40" stroke="#555" stroke-width="0.5"/>
<text x="416.50" y="356.40" font-size="5.6" fill="#333" text-anchor="start">0.5</text>
<line x1="414.00" y1="367.80" x2="415.50" y2="367.80" stroke="#555" stroke-width="0.5"/>
<text x="416.50" y="369.80" font-size="5.6" fill="#333" text-anchor="start">0.0</text>
<line x1="414.00" y1="381.20" x2="415.50" y2="381.20" stroke="#555" stroke-width="0.5"/>
<text x="416.50" y="383.20" font-size="5.6" fill="#333" text-anchor="start">−0.5</text>
<line x1="414.00" y1="394.60" x2="415.50" y2="394.60" stroke="#555" stroke-width="0.5"/>
<text x="416.50" y="396.60" font-size="5.6" fill="#333" text-anchor="start">−1.0</text>
<text x="443.00" y="366.40" font-size="7.5" fill="#222" text-anchor="middle" transform="rotate(-90 443.0 366.4)">Beta (eigenprotein)</text>
<text x="384.80" y="339.70" font-size="12.5" fill="#000" text-anchor="start" font-weight="bold">d</text>
<polyline points="594.60,396.50 594.60,384.60 627.40,384.60 627.40,396.50" fill="none" stroke="#777" stroke-width="0.7"/>
<polyline points="561.80,396.50 561.80,377.50 611.00,377.50 611.00,384.60" fill="none" stroke="#777" stroke-width="0.7"/>
<polyline points="529.00,396.50 529.00,370.40 586.40,370.40 586.40,377.50" fill="none" stroke="#777" stroke-width="0.7"/>
<polyline points="496.20,396.50 496.20,362.30 557.70,362.30 557.70,370.40" fill="none" stroke="#777" stroke-width="0.7"/>
<polyline points="463.40,396.50 463.40,341.70 526.95,341.70 526.95,362.30" fill="none" stroke="#777" stroke-width="0.7"/>
<polyline points="446.90,455.68 440.40,455.68 440.40,464.78 446.90,464.78" fill="none" stroke="#777" stroke-width="0.7"/>
<polyline points="446.90,446.57 439.00,446.57 439.00,460.23 440.40,460.23" fill="none" stroke="#777" stroke-width="0.7"/>
<polyline points="446.90,437.47 436.60,437.47 436.60,453.40 439.00,453.40" fill="none" stroke="#777" stroke-width="0.7"/>
<polyline points="446.90,428.36 429.40,428.36 429.40,445.43 436.60,445.43" fill="none" stroke="#777" stroke-width="0.7"/>
<polyline points="446.90,482.99 442.50,482.99 442.50,492.09 446.90,492.09" fill="none" stroke="#777" stroke-width="0.7"/>
<polyline points="446.90,473.88 433.50,473.88 433.50,487.54 442.50,487.54" fill="none" stroke="#777" stroke-width="0.7"/>
<polyline points="446.90,501.20 437.90,501.20 437.90,510.30 446.90,510.30" fill="none" stroke="#777" stroke-width="0.7"/>
<polyline points="446.90,519.40 443.40,519.40 443.40,528.51 446.90,528.51" fill="none" stroke="#777" stroke-width="0.7"/>
<polyline points="446.90,555.82 446.00,555.82 446.00,564.92 446.90,564.92" fill="none" stroke="#777" stroke-width="0.7"/>
<polyline points="446.90,546.72 445.40,546.72 445.40,560.37 446.00,560.37" fill="none" stroke="#777" stroke-width="0.7"/>
<polyline points="446.90,537.61 442.10,537.61 442.10,553.54 445.40,553.54" fill="none" stroke="#777" stroke-width="0.7"/>
<polyline points="446.90,583.13 446.30,583.13 446.30,592.24 446.90,592.24" fill="none" stroke="#777" stroke-width="0.7"/>
<polyline points="446.90,574.03 444.50,574.03 444.50,587.68 446.30,587.68" fill="none" stroke="#777" stroke-width="0.7"/>
<polyline points="446.90,610.44 445.50,610.44 445.50,619.55 446.90,619.55" fill="none" stroke="#777" stroke-width="0.7"/>
<polyline points="446.90,601.34 443.30,601.34 443.30,615.00 445.50,615.00" fill="none" stroke="#777" stroke-width="0.7"/>
<polyline points="444.50,580.86 441.20,580.86 441.20,608.17 443.30,608.17" fill="none" stroke="#777" stroke-width="0.7"/>
<polyline points="442.10,545.58 440.30,545.58 440.30,594.51 441.20,594.51" fill="none" stroke="#777" stroke-width="0.7"/>
<polyline points="443.40,523.96 433.80,523.96 433.80,570.05 440.30,570.05" fill="none" stroke="#777" stroke-width="0.7"/>
<polyline points="437.90,505.75 433.30,505.75 433.30,547.00 433.80,547.00" fill="none" stroke="#777" stroke-width="0.7"/>
<polyline points="433.50,480.71 425.30,480.71 425.30,526.37 433.30,526.37" fill="none" stroke="#777" stroke-width="0.7"/>
<polyline points="429.40,436.90 419.20,436.90 419.20,503.54 425.30,503.54" fill="none" stroke="#777" stroke-width="0.7"/>
<polyline points="446.90,419.26 413.70,419.26 413.70,470.22 419.20,470.22" fill="none" stroke="#777" stroke-width="0.7"/>
<polyline points="446.90,410.16 406.30,410.16 406.30,444.74 413.70,444.74" fill="none" stroke="#777" stroke-width="0.7"/>
<polyline points="446.90,401.05 399.60,401.05 399.60,427.45 406.30,427.45" fill="none" stroke="#777" stroke-width="0.7"/>
<rect x="447.00" y="396.50" width="32.85" height="9.15" fill="#f6b394"/>
<rect x="479.80" y="396.50" width="32.85" height="9.15" fill="#f7b799"/>
<rect x="512.60" y="396.50" width="32.85" height="9.15" fill="#fce2d2"/>
<rect x="545.40" y="396.50" width="32.85" height="9.15" fill="#f9efe9"/>
<rect x="578.20" y="396.50" width="32.85" height="9.15" fill="#fae9df"/>
<rect x="611.00" y="396.50" width="32.85" height="9.15" fill="#fae9df"/>
<rect x="447.00" y="405.60" width="32.85" height="9.15" fill="#a2cde3"/>
<rect x="479.80" y="405.60" width="32.85" height="9.15" fill="#e4eef4"/>
<rect x="512.60" y="405.60" width="32.85" height="9.15" fill="#edf2f5"/>
<rect x="545.40" y="405.60" width="32.85" height="9.15" fill="#edf2f5"/>
<rect x="578.20" y="405.60" width="32.85" height="9.15" fill="#edf2f5"/>
<rect x="611.00" y="405.60" width="32.85" height="9.15" fill="#edf2f5"/>
<rect x="447.00" y="414.71" width="32.85" height="9.15" fill="#d1e5f0"/>
<rect x="479.80" y="414.71" width="32.85" height="9.15" fill="#f3f5f6"/>
<rect x="512.60" y="414.71" width="32.85" height="9.15" fill="#fbe6da"/>
<rect x="545.40" y="414.71" width="32.85" height="9.15" fill="#fae9df"/>
<rect x="578.20" y="414.71" width="32.85" height="9.15" fill="#fce2d2"/>
<rect x="611.00" y="414.71" width="32.85" height="9.15" fill="#fae9df"/>
<rect x="447.00" y="423.81" width="32.85" height="9.15" fill="#f3f5f6"/>
<rect x="479.80" y="423.81" width="32.85" height="9.15" fill="#fbe6da"/>
<rect x="512.60" y="423.81" width="32.85" height="9.15" fill="#fbe5d8"/>
<rect x="545.40" y="423.81" width="32.85" height="9.15" fill="#f9f0eb"/>
<rect x="578.20" y="423.81" width="32.85" height="9.15" fill="#f9ebe3"/>
<rect x="611.00" y="423.81" width="32.85" height="9.15" fill="#f9ebe3"/>
<rect x="447.00" y="432.92" width="32.85" height="9.15" fill="#fcdfcf"/>
<rect x="479.80" y="432.92" width="32.85" height="9.15" fill="#fce2d2"/>
<rect x="512.60" y="432.92" width="32.85" height="9.15" fill="#fcdfcf"/>
<rect x="545.40" y="432.92" width="32.85" height="9.15" fill="#f8f1ed"/>
<rect x="578.20" y="432.92" width="32.85" height="9.15" fill="#fae9df"/>
<rect x="611.00" y="432.92" width="32.85" height="9.15" fill="#fae9df"/>
<rect x="447.00" y="442.02" width="32.85" height="9.15" fill="#fce0d0"/>
<rect x="479.80" y="442.02" width="32.85" height="9.15" fill="#f9ebe3"/>
<rect x="512.60" y="442.02" width="32.85" height="9.15" fill="#fcdfcf"/>
<rect x="545.40" y="442.02" width="32.85" height="9.15" fill="#f8f3f0"/>
<rect x="578.20" y="442.02" width="32.85" height="9.15" fill="#f9f0eb"/>
<rect x="611.00" y="442.02" width="32.85" height="9.15" fill="#fae9df"/>
<rect x="447.00" y="451.12" width="32.85" height="9.15" fill="#fbe4d6"/>
<rect x="479.80" y="451.12" width="32.85" height="9.15" fill="#fbe5d8"/>
<rect x="512.60" y="451.12" width="32.85" height="9.15" fill="#fce2d2"/>
<rect x="545.40" y="451.12" width="32.85" height="9.15" fill="#f8f4f2"/>
<rect x="578.20" y="451.12" width="32.85" height="9.15" fill="#f9f0eb"/>
<rect x="611.00" y="451.12" width="32.85" height="9.15" fill="#f9ebe3"/>
<rect x="447.00" y="460.23" width="32.85" height="9.15" fill="#fbe6da"/>
<rect x="479.80" y="460.23" width="32.85" height="9.15" fill="#f9eee7"/>
<rect x="512.60" y="460.23" width="32.85" height="9.15" fill="#fbe6da"/>
<rect x="545.40" y="460.23" width="32.85" height="9.15" fill="#f5f6f7"/>
<rect x="578.20" y="460.23" width="32.85" height="9.15" fill="#f8f1ed"/>
<rect x="611.00" y="460.23" width="32.85" height="9.15" fill="#fbe6da"/>
<rect x="447.00" y="469.33" width="32.85" height="9.15" fill="#f8f4f2"/>
<rect x="479.80" y="469.33" width="32.85" height="9.15" fill="#e7f0f4"/>
<rect x="512.60" y="469.33" width="32.85" height="9.15" fill="#deebf2"/>
<rect x="545.40" y="469.33" width="32.85" height="9.15" fill="#eaf1f5"/>
<rect x="578.20" y="469.33" width="32.85" height="9.15" fill="#e4eef4"/>
<rect x="611.00" y="469.33" width="32.85" height="9.15" fill="#e7f0f4"/>
<rect x="447.00" y="478.44" width="32.85" height="9.15" fill="#eaf1f5"/>
<rect x="479.80" y="478.44" width="32.85" height="9.15" fill="#f2f5f6"/>
<rect x="512.60" y="478.44" width="32.85" height="9.15" fill="#e7f0f4"/>
<rect x="545.40" y="478.44" width="32.85" height="9.15" fill="#edf2f5"/>
<rect x="578.20" y="478.44" width="32.85" height="9.15" fill="#edf2f5"/>
<rect x="611.00" y="478.44" width="32.85" height="9.15" fill="#edf2f5"/>
<rect x="447.00" y="487.54" width="32.85" height="9.15" fill="#e4eef4"/>
<rect x="479.80" y="487.54" width="32.85" height="9.15" fill="#edf2f5"/>
<rect x="512.60" y="487.54" width="32.85" height="9.15" fill="#eaf1f5"/>
<rect x="545.40" y="487.54" width="32.85" height="9.15" fill="#edf2f5"/>
<rect x="578.20" y="487.54" width="32.85" height="9.15" fill="#edf2f5"/>
<rect x="611.00" y="487.54" width="32.85" height="9.15" fill="#edf2f5"/>
<rect x="447.00" y="496.64" width="32.85" height="9.15" fill="#fbe6da"/>
<rect x="479.80" y="496.64" width="32.85" height="9.15" fill="#f9f0eb"/>
<rect x="512.60" y="496.64" width="32.85" height="9.15" fill="#eaf1f5"/>
<rect x="545.40" y="496.64" width="32.85" height="9.15" fill="#f3f5f6"/>
<rect x="578.20" y="496.64" width="32.85" height="9.15" fill="#f3f5f6"/>
<rect x="611.00" y="496.64" width="32.85" height="9.15" fill="#edf2f5"/>
<rect x="447.00" y="505.75" width="32.85" height="9.15" fill="#fae9df"/>
<rect x="479.80" y="505.75" width="32.85" height="9.15" fill="#f8f1ed"/>
<rect x="512.60" y="505.75" width="32.85" height="9.15" fill="#f3f5f6"/>
<rect x="545.40" y="505.75" width="32.85" height="9.15" fill="#f5f6f7"/>
<rect x="578.20" y="505.75" width="32.85" height="9.15" fill="#f7f6f6"/>
<rect x="611.00" y="505.75" width="32.85" height="9.15" fill="#f8f4f2"/>
<rect x="447.00" y="514.85" width="32.85" height="9.15" fill="#fae9df"/>
<rect x="479.80" y="514.85" width="32.85" height="9.15" fill="#f9f0eb"/>
<rect x="512.60" y="514.85" width="32.85" height="9.15" fill="#f9f0eb"/>
<rect x="545.40" y="514.85" width="32.85" height="9.15" fill="#f8f4f2"/>
<rect x="578.20" y="514.85" width="32.85" height="9.15" fill="#f9f0eb"/>
<rect x="611.00" y="514.85" width="32.85" height="9.15" fill="#f9f0eb"/>
<rect x="447.00" y="523.96" width="32.85" height="9.15" fill="#fbe6da"/>
<rect x="479.80" y="523.96" width="32.85" height="9.15" fill="#f9f0eb"/>
<rect x="512.60" y="523.96" width="32.85" height="9.15" fill="#f9f0eb"/>
<rect x="545.40" y="523.96" width="32.85" height="9.15" fill="#f8f1ed"/>
<rect x="578.20" y="523.96" width="32.85" height="9.15" fill="#f8f4f2"/>
<rect x="611.00" y="523.96" width="32.85" height="9.15" fill="#f9f0eb"/>
<rect x="447.00" y="533.06" width="32.85" height="9.15" fill="#f9eee7"/>
<rect x="479.80" y="533.06" width="32.85" height="9.15" fill="#f8f1ed"/>
<rect x="512.60" y="533.06" width="32.85" height="9.15" fill="#f8f4f2"/>
<rect x="545.40" y="533.06" width="32.85" height="9.15" fill="#f8f4f2"/>
<rect x="578.20" y="533.06" width="32.85" height="9.15" fill="#f7f6f6"/>
<rect x="611.00" y="533.06" width="32.85" height="9.15" fill="#f8f4f2"/>
<rect x="447.00" y="542.16" width="32.85" height="9.15" fill="#f9f0eb"/>
<rect x="479.80" y="542.16" width="32.85" height="9.15" fill="#f8f4f2"/>
<rect x="512.60" y="542.16" width="32.85" height="9.15" fill="#f8f1ed"/>
<rect x="545.40" y="542.16" width="32.85" height="9.15" fill="#f7f5f4"/>
<rect x="578.20" y="542.16" width="32.85" height="9.15" fill="#f8f3f0"/>
<rect x="611.00" y="542.16" width="32.85" height="9.15" fill="#f8f3f0"/>
<rect x="447.00" y="551.27" width="32.85" height="9.15" fill="#f8f4f2"/>
<rect x="479.80" y="551.27" width="32.85" height="9.15" fill="#f7f5f4"/>
<rect x="512.60" y="551.27" width="32.85" height="9.15" fill="#f9f0eb"/>
<rect x="545.40" y="551.27" width="32.85" height="9.15" fill="#f7f5f4"/>
<rect x="578.20" y="551.27" width="32.85" height="9.15" fill="#f8f3f0"/>
<rect x="611.00" y="551.27" width="32.85" height="9.15" fill="#f8f3f0"/>
<rect x="447.00" y="560.37" width="32.85" height="9.15" fill="#f8f1ed"/>
<rect x="479.80" y="560.37" width="32.85" height="9.15" fill="#f7f5f4"/>
<rect x="512.60" y="560.37" width="32.85" height="9.15" fill="#f9f0eb"/>
<rect x="545.40" y="560.37" width="32.85" height="9.15" fill="#f8f3f0"/>
<rect x="578.20" y="560.37" width="32.85" height="9.15" fill="#f8f3f0"/>
<rect x="611.00" y="560.37" width="32.85" height="9.15" fill="#f8f3f0"/>
<rect x="447.00" y="569.48" width="32.85" height="9.15" fill="#f3f5f6"/>
<rect x="479.80" y="569.48" width="32.85" height="9.15" fill="#f5f6f7"/>
<rect x="512.60" y="569.48" width="32.85" height="9.15" fill="#f5f6f7"/>
<rect x="545.40" y="569.48" width="32.85" height="9.15" fill="#f5f6f7"/>
<rect x="578.20" y="569.48" width="32.85" height="9.15" fill="#f5f6f7"/>
<rect x="611.00" y="569.48" width="32.85" height="9.15" fill="#f5f6f7"/>
<rect x="447.00" y="578.58" width="32.85" height="9.15" fill="#f5f6f7"/>
<rect x="479.80" y="578.58" width="32.85" height="9.15" fill="#f5f6f7"/>
<rect x="512.60" y="578.58" width="32.85" height="9.15" fill="#f2f5f6"/>
<rect x="545.40" y="578.58" width="32.85" height="9.15" fill="#f5f6f7"/>
<rect x="578.20" y="578.58" width="32.85" height="9.15" fill="#f3f5f6"/>
<rect x="611.00" y="578.58" width="32.85" height="9.15" fill="#f3f5f6"/>
<rect x="447.00" y="587.68" width="32.85" height="9.15" fill="#f5f6f7"/>
<rect x="479.80" y="587.68" width="32.85" height="9.15" fill="#f5f6f7"/>
<rect x="512.60" y="587.68" width="32.85" height="9.15" fill="#f2f5f6"/>
<rect x="545.40" y="587.68" width="32.85" height="9.15" fill="#f5f6f7"/>
<rect x="578.20" y="587.68" width="32.85" height="9.15" fill="#f3f5f6"/>
<rect x="611.00" y="587.68" width="32.85" height="9.15" fill="#f3f5f6"/>
<rect x="447.00" y="596.79" width="32.85" height="9.15" fill="#edf2f5"/>
<rect x="479.80" y="596.79" width="32.85" height="9.15" fill="#f5f6f7"/>
<rect x="512.60" y="596.79" width="32.85" height="9.15" fill="#f8f3f0"/>
<rect x="545.40" y="596.79" width="32.85" height="9.15" fill="#f7f5f4"/>
<rect x="578.20" y="596.79" width="32.85" height="9.15" fill="#f7f5f4"/>
<rect x="611.00" y="596.79" width="32.85" height="9.15" fill="#f7f5f4"/>
<rect x="447.00" y="605.89" width="32.85" height="9.15" fill="#f5f6f7"/>
<rect x="479.80" y="605.89" width="32.85" height="9.15" fill="#f5f6f7"/>
<rect x="512.60" y="605.89" width="32.85" height="9.15" fill="#f8f4f2"/>
<rect x="545.40" y="605.89" width="32.85" height="9.15" fill="#f7f5f4"/>
<rect x="578.20" y="605.89" width="32.85" height="9.15" fill="#f7f5f4"/>
<rect x="611.00" y="605.89" width="32.85" height="9.15" fill="#f7f5f4"/>
<rect x="447.00" y="615.00" width="32.85" height="9.15" fill="#f5f6f7"/>
<rect x="479.80" y="615.00" width="32.85" height="9.15" fill="#f5f6f7"/>
<rect x="512.60" y="615.00" width="32.85" height="9.15" fill="#f7f5f4"/>
<rect x="545.40" y="615.00" width="32.85" height="9.15" fill="#f7f6f6"/>
<rect x="578.20" y="615.00" width="32.85" height="9.15" fill="#f7f6f6"/>
<rect x="611.00" y="615.00" width="32.85" height="9.15" fill="#f7f6f6"/>
<circle cx="463.40" cy="399.85" r="0.55" fill="#444"/>
<circle cx="496.20" cy="399.85" r="0.55" fill="#444"/>
<circle cx="529.00" cy="399.85" r="0.55" fill="#444"/>
<circle cx="594.60" cy="399.85" r="0.55" fill="#444"/>
<circle cx="627.40" cy="399.85" r="0.55" fill="#444"/>
<circle cx="463.40" cy="408.96" r="0.55" fill="#444"/>
<circle cx="496.20" cy="408.96" r="0.55" fill="#444"/>
<circle cx="463.40" cy="418.06" r="0.55" fill="#444"/>
<circle cx="529.00" cy="418.06" r="0.55" fill="#444"/>
<circle cx="561.80" cy="418.06" r="0.55" fill="#444"/>
<circle cx="594.60" cy="418.06" r="0.55" fill="#444"/>
<circle cx="627.40" cy="418.06" r="0.55" fill="#444"/>
<circle cx="496.20" cy="427.16" r="0.55" fill="#444"/>
<circle cx="529.00" cy="427.16" r="0.55" fill="#444"/>
<circle cx="594.60" cy="427.16" r="0.55" fill="#444"/>
<circle cx="627.40" cy="427.16" r="0.55" fill="#444"/>
<circle cx="463.40" cy="436.27" r="0.55" fill="#444"/>
<circle cx="496.20" cy="436.27" r="0.55" fill="#444"/>
<circle cx="529.00" cy="436.27" r="0.55" fill="#444"/>
<circle cx="594.60" cy="436.27" r="0.55" fill="#444"/>
<circle cx="627.40" cy="436.27" r="0.55" fill="#444"/>
<circle cx="463.40" cy="445.37" r="0.55" fill="#444"/>
<circle cx="496.20" cy="445.37" r="0.55" fill="#444"/>
<circle cx="529.00" cy="445.37" r="0.55" fill="#444"/>
<circle cx="594.60" cy="445.37" r="0.55" fill="#444"/>
<circle cx="627.40" cy="445.37" r="0.55" fill="#444"/>
<circle cx="463.40" cy="454.48" r="0.55" fill="#444"/>
<circle cx="496.20" cy="454.48" r="0.55" fill="#444"/>
<circle cx="529.00" cy="454.48" r="0.55" fill="#444"/>
<circle cx="594.60" cy="454.48" r="0.55" fill="#444"/>
<circle cx="627.40" cy="454.48" r="0.55" fill="#444"/>
<circle cx="463.40" cy="463.58" r="0.55" fill="#444"/>
<circle cx="496.20" cy="463.58" r="0.55" fill="#444"/>
<circle cx="529.00" cy="463.58" r="0.55" fill="#444"/>
<circle cx="627.40" cy="463.58" r="0.55" fill="#444"/>
<circle cx="496.20" cy="472.68" r="0.55" fill="#444"/>
<circle cx="529.00" cy="472.68" r="0.55" fill="#444"/>
<circle cx="561.80" cy="472.68" r="0.55" fill="#444"/>
<circle cx="594.60" cy="472.68" r="0.55" fill="#444"/>
<circle cx="627.40" cy="472.68" r="0.55" fill="#444"/>
<circle cx="463.40" cy="481.79" r="0.55" fill="#444"/>
<circle cx="529.00" cy="481.79" r="0.55" fill="#444"/>
<circle cx="561.80" cy="481.79" r="0.55" fill="#444"/>
<circle cx="594.60" cy="481.79" r="0.55" fill="#444"/>
<circle cx="627.40" cy="481.79" r="0.55" fill="#444"/>
<circle cx="463.40" cy="490.89" r="0.55" fill="#444"/>
<circle cx="496.20" cy="490.89" r="0.55" fill="#444"/>
<circle cx="529.00" cy="490.89" r="0.55" fill="#444"/>
<circle cx="561.80" cy="490.89" r="0.55" fill="#444"/>
<circle cx="594.60" cy="490.89" r="0.55" fill="#444"/>
<circle cx="627.40" cy="490.89" r="0.55" fill="#444"/>
<circle cx="463.40" cy="500.00" r="0.55" fill="#444"/>
<circle cx="496.20" cy="500.00" r="0.55" fill="#444"/>
<circle cx="529.00" cy="500.00" r="0.55" fill="#444"/>
<circle cx="463.40" cy="509.10" r="0.55" fill="#444"/>
<circle cx="496.20" cy="509.10" r="0.55" fill="#444"/>
<circle cx="463.40" cy="518.20" r="0.55" fill="#444"/>
<circle cx="496.20" cy="518.20" r="0.55" fill="#444"/>
<circle cx="529.00" cy="518.20" r="0.55" fill="#444"/>
<circle cx="594.60" cy="518.20" r="0.55" fill="#444"/>
<circle cx="627.40" cy="518.20" r="0.55" fill="#444"/>
<circle cx="463.40" cy="527.31" r="0.55" fill="#444"/>
<circle cx="496.20" cy="527.31" r="0.55" fill="#444"/>
<circle cx="529.00" cy="527.31" r="0.55" fill="#444"/>
<circle cx="561.80" cy="527.31" r="0.55" fill="#444"/>
<circle cx="627.40" cy="527.31" r="0.55" fill="#444"/>
<circle cx="463.40" cy="536.41" r="0.55" fill="#444"/>
<circle cx="496.20" cy="536.41" r="0.55" fill="#444"/>
<circle cx="463.40" cy="545.52" r="0.55" fill="#444"/>
<circle cx="529.00" cy="545.52" r="0.55" fill="#444"/>
<circle cx="594.60" cy="545.52" r="0.55" fill="#444"/>
<circle cx="627.40" cy="545.52" r="0.55" fill="#444"/>
<circle cx="529.00" cy="554.62" r="0.55" fill="#444"/>
<circle cx="594.60" cy="554.62" r="0.55" fill="#444"/>
<circle cx="627.40" cy="554.62" r="0.55" fill="#444"/>
<circle cx="529.00" cy="563.72" r="0.55" fill="#444"/>
<circle cx="627.40" cy="563.72" r="0.55" fill="#444"/>
<circle cx="463.40" cy="572.83" r="0.55" fill="#444"/>
<circle cx="529.00" cy="581.93" r="0.55" fill="#444"/>
<circle cx="594.60" cy="581.93" r="0.55" fill="#444"/>
<circle cx="529.00" cy="591.04" r="0.55" fill="#444"/>
<circle cx="594.60" cy="591.04" r="0.55" fill="#444"/>
<circle cx="463.40" cy="600.14" r="0.55" fill="#444"/>
<circle cx="529.00" cy="600.14" r="0.55" fill="#444"/>
<circle cx="529.00" cy="609.24" r="0.55" fill="#444"/>
<circle cx="529.00" cy="618.35" r="0.55" fill="#444"/>
<line x1="643.80" y1="401.05" x2="645.30" y2="401.05" stroke="#444" stroke-width="0.5"/>
<text x="646.30" y="402.85" font-size="5.0" fill="#222" text-anchor="start">RFC4</text>
<line x1="643.80" y1="410.16" x2="645.30" y2="410.16" stroke="#444" stroke-width="0.5"/>
<text x="646.30" y="411.96" font-size="5.0" fill="#222" text-anchor="start">APOA5</text>
<line x1="643.80" y1="419.26" x2="645.30" y2="419.26" stroke="#444" stroke-width="0.5"/>
<text x="646.30" y="421.06" font-size="5.0" fill="#222" text-anchor="start">ITIH3</text>
<line x1="643.80" y1="428.36" x2="645.30" y2="428.36" stroke="#444" stroke-width="0.5"/>
<text x="646.30" y="430.16" font-size="5.0" fill="#222" text-anchor="start">IZUMO1</text>
<line x1="643.80" y1="437.47" x2="645.30" y2="437.47" stroke="#444" stroke-width="0.5"/>
<text x="646.30" y="439.27" font-size="5.0" fill="#222" text-anchor="start">HSPA1B</text>
<line x1="643.80" y1="446.57" x2="645.30" y2="446.57" stroke="#444" stroke-width="0.5"/>
<text x="646.30" y="448.37" font-size="5.0" fill="#222" text-anchor="start">DCTN2</text>
<line x1="643.80" y1="455.68" x2="645.30" y2="455.68" stroke="#444" stroke-width="0.5"/>
<text x="646.30" y="457.48" font-size="5.0" fill="#222" text-anchor="start">HSPA1A</text>
<line x1="643.80" y1="464.78" x2="645.30" y2="464.78" stroke="#444" stroke-width="0.5"/>
<text x="646.30" y="466.58" font-size="5.0" fill="#222" text-anchor="start">CSF3</text>
<line x1="643.80" y1="473.88" x2="645.30" y2="473.88" stroke="#444" stroke-width="0.5"/>
<text x="646.30" y="475.68" font-size="5.0" fill="#222" text-anchor="start">KLKB1</text>
<line x1="643.80" y1="482.99" x2="645.30" y2="482.99" stroke="#444" stroke-width="0.5"/>
<text x="646.30" y="484.79" font-size="5.0" fill="#222" text-anchor="start">KEAP1</text>
<line x1="643.80" y1="492.09" x2="645.30" y2="492.09" stroke="#444" stroke-width="0.5"/>
<text x="646.30" y="493.89" font-size="5.0" fill="#222" text-anchor="start">CSH1|CSH2</text>
<line x1="643.80" y1="501.20" x2="645.30" y2="501.20" stroke="#444" stroke-width="0.5"/>
<text x="646.30" y="503.00" font-size="5.0" fill="#222" text-anchor="start">AFM</text>
<line x1="643.80" y1="510.30" x2="645.30" y2="510.30" stroke="#444" stroke-width="0.5"/>
<text x="646.30" y="512.10" font-size="5.0" fill="#222" text-anchor="start">GAL3ST1</text>
<line x1="643.80" y1="519.40" x2="645.30" y2="519.40" stroke="#444" stroke-width="0.5"/>
<text x="646.30" y="521.20" font-size="5.0" fill="#222" text-anchor="start">DDX39B</text>
<line x1="643.80" y1="528.51" x2="645.30" y2="528.51" stroke="#444" stroke-width="0.5"/>
<text x="646.30" y="530.31" font-size="5.0" fill="#222" text-anchor="start">C2</text>
<line x1="643.80" y1="537.61" x2="645.30" y2="537.61" stroke="#444" stroke-width="0.5"/>
<text x="646.30" y="539.41" font-size="5.0" fill="#222" text-anchor="start">CFB</text>
<line x1="643.80" y1="546.72" x2="645.30" y2="546.72" stroke="#444" stroke-width="0.5"/>
<text x="646.30" y="548.52" font-size="5.0" fill="#222" text-anchor="start">PCDH8</text>
<line x1="643.80" y1="555.82" x2="645.30" y2="555.82" stroke="#444" stroke-width="0.5"/>
<text x="646.30" y="557.62" font-size="5.0" fill="#222" text-anchor="start">GABARAP</text>
<line x1="643.80" y1="564.92" x2="645.30" y2="564.92" stroke="#444" stroke-width="0.5"/>
<text x="646.30" y="566.72" font-size="5.0" fill="#222" text-anchor="start">FABP3</text>
<line x1="643.80" y1="574.03" x2="645.30" y2="574.03" stroke="#444" stroke-width="0.5"/>
<text x="646.30" y="575.83" font-size="5.0" fill="#222" text-anchor="start">C11orf49,LRP4</text>
<line x1="643.80" y1="583.13" x2="645.30" y2="583.13" stroke="#444" stroke-width="0.5"/>
<text x="646.30" y="584.93" font-size="5.0" fill="#222" text-anchor="start">AIPL1</text>
<line x1="643.80" y1="592.24" x2="645.30" y2="592.24" stroke="#444" stroke-width="0.5"/>
<text x="646.30" y="594.04" font-size="5.0" fill="#222" text-anchor="start">MRRF</text>
<line x1="643.80" y1="601.34" x2="645.30" y2="601.34" stroke="#444" stroke-width="0.5"/>
<text x="646.30" y="603.14" font-size="5.0" fill="#222" text-anchor="start">PTPN11</text>
<line x1="643.80" y1="610.44" x2="645.30" y2="610.44" stroke="#444" stroke-width="0.5"/>
<text x="646.30" y="612.24" font-size="5.0" fill="#222" text-anchor="start">NUDT21</text>
<line x1="643.80" y1="619.55" x2="645.30" y2="619.55" stroke="#444" stroke-width="0.5"/>
<text x="646.30" y="621.35" font-size="5.0" fill="#222" text-anchor="start">COL28A1</text>
<line x1="463.40" y1="624.10" x2="463.40" y2="625.70" stroke="#444" stroke-width="0.5"/>
<text x="465.20" y="634.60" font-size="7.0" fill="#ff1f1f" text-anchor="middle" font-weight="bold">MetS</text>
<line x1="496.20" y1="624.10" x2="496.20" y2="625.70" stroke="#444" stroke-width="0.5"/>
<text x="498.00" y="634.60" font-size="7.0" fill="#ff3a3a" text-anchor="middle" font-weight="bold">T2D</text>
<line x1="529.00" y1="624.10" x2="529.00" y2="625.70" stroke="#444" stroke-width="0.5"/>
<text x="530.80" y="634.60" font-size="7.0" fill="#5555ff" text-anchor="middle" font-weight="bold">HF</text>
<line x1="561.80" y1="624.10" x2="561.80" y2="625.70" stroke="#444" stroke-width="0.5"/>
<text x="563.60" y="634.60" font-size="7.0" fill="#35c835" text-anchor="middle" font-weight="bold">Plaque</text>
<line x1="594.60" y1="624.10" x2="594.60" y2="625.70" stroke="#444" stroke-width="0.5"/>
<text x="596.40" y="634.60" font-size="7.0" fill="#2dc42d" text-anchor="middle" font-weight="bold">CAC</text>
<line x1="627.40" y1="624.10" x2="627.40" y2="625.70" stroke="#444" stroke-width="0.5"/>
<text x="629.20" y="634.60" font-size="7.0" fill="#2a2aff" text-anchor="middle" font-weight="bold">MI</text>
</svg>
</body></html>
